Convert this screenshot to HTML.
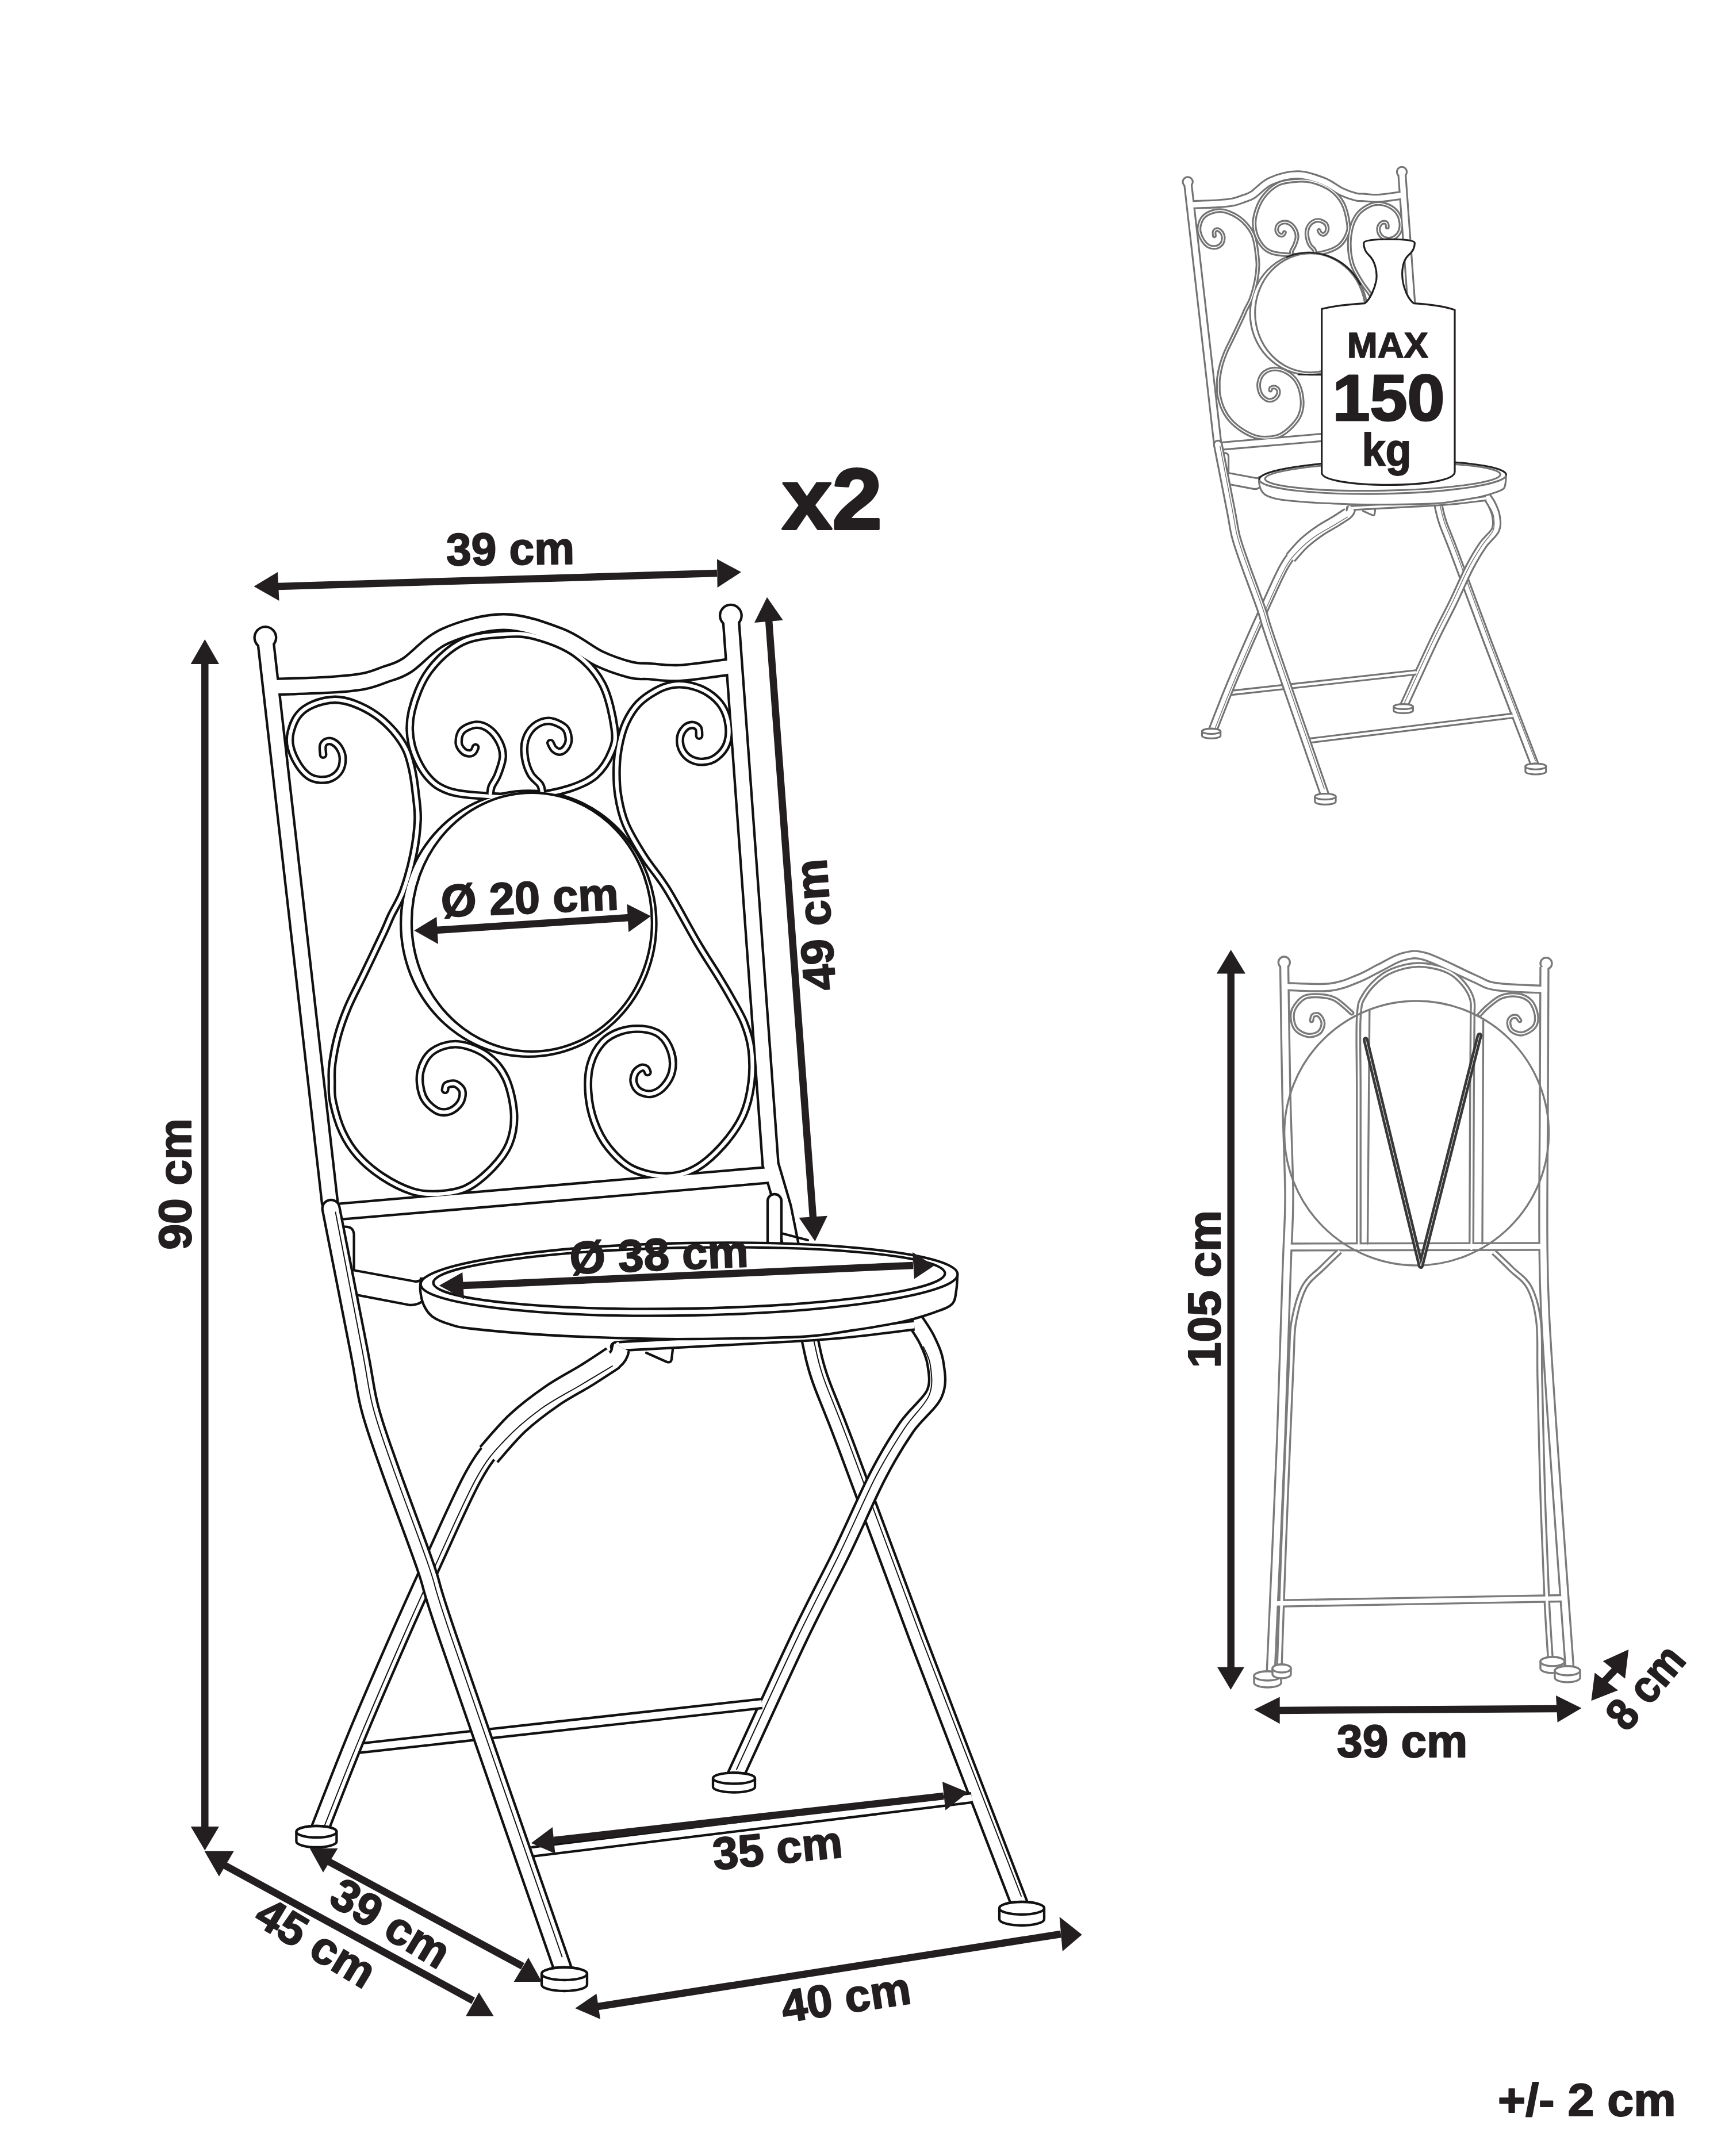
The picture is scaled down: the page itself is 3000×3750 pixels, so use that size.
<!DOCTYPE html>
<html><head><meta charset="utf-8"><style>
html,body{margin:0;padding:0;background:#fff;}
svg{display:block;font-family:"Liberation Sans",sans-serif;}
</style></head><body>
<svg xmlns="http://www.w3.org/2000/svg" width="3000" height="3750" viewBox="0 0 3000 3750">
<rect width="3000" height="3750" fill="#fff"/>

<path d="M1380,2190 C1380.8,2195 1380.3,2197 1385,2220 C1389.7,2243 1401.3,2298.8 1408,2328 C1414.7,2357.2 1414.7,2364.5 1425,2395 C1435.3,2425.5 1441.5,2435.2 1470,2511 C1498.5,2586.8 1544.8,2714.8 1596,2850 C1647.2,2985.2 1746.8,3243.3 1777,3322" fill="none" stroke="#111111" stroke-width="32.3" stroke-linecap="butt" stroke-linejoin="round"/>

<path d="M1380,2190 C1380.8,2195 1380.3,2197 1385,2220 C1389.7,2243 1401.3,2298.8 1408,2328 C1414.7,2357.2 1414.7,2364.5 1425,2395 C1435.3,2425.5 1441.5,2435.2 1470,2511 C1498.5,2586.8 1544.8,2714.8 1596,2850 C1647.2,2985.2 1746.8,3243.3 1777,3322" fill="none" stroke="#fff" stroke-width="23.7" stroke-linecap="butt" stroke-linejoin="round"/><g transform="translate(6,-2)"><path d="M1400,2300 C1401.3,2304.7 1403.8,2312.2 1408,2328 C1412.2,2343.8 1414.7,2364.5 1425,2395 C1435.3,2425.5 1441.5,2435.2 1470,2511 C1498.5,2586.8 1546,2718.5 1596,2850 C1646,2981.5 1741,3225 1770,3300" fill="none" stroke="#111111" stroke-width="1.9" stroke-linecap="round" stroke-linejoin="round"/></g>
<path d="M1590,2295 C1593.7,2300.8 1605.8,2317.2 1612,2330 C1618.2,2342.8 1624.8,2356.3 1627,2372 C1629.2,2387.7 1633.3,2405.7 1625,2424 C1616.7,2442.3 1593.3,2458.3 1577,2482 C1560.7,2505.7 1545.8,2529.7 1527,2566 C1508.2,2602.3 1487,2652.7 1464,2700 C1441,2747.3 1420.3,2784.2 1389,2850 C1357.7,2915.8 1294.8,3054.2 1276,3095" fill="none" stroke="#111111" stroke-width="32.3" stroke-linecap="butt" stroke-linejoin="round"/>

<path d="M1590,2295 C1593.7,2300.8 1605.8,2317.2 1612,2330 C1618.2,2342.8 1624.8,2356.3 1627,2372 C1629.2,2387.7 1633.3,2405.7 1625,2424 C1616.7,2442.3 1593.3,2458.3 1577,2482 C1560.7,2505.7 1545.8,2529.7 1527,2566 C1508.2,2602.3 1487,2652.7 1464,2700 C1441,2747.3 1420.3,2784.2 1389,2850 C1357.7,2915.8 1294.8,3054.2 1276,3095" fill="none" stroke="#fff" stroke-width="23.7" stroke-linecap="butt" stroke-linejoin="round"/><g transform="translate(6,2.5)"><path d="M1600,2340 C1602,2345.3 1610.3,2358 1612,2372 C1613.7,2386 1617.5,2405.7 1610,2424 C1602.5,2442.3 1582.5,2458.3 1567,2482 C1551.5,2505.7 1535.8,2529.7 1517,2566 C1498.2,2602.3 1477,2652.7 1454,2700 C1431,2747.3 1408.8,2787.5 1379,2850 C1349.2,2912.5 1292.3,3037.5 1275,3075" fill="none" stroke="#111111" stroke-width="1.9" stroke-linecap="round" stroke-linejoin="round"/></g>
<path d="M1078,2343 C1080,2342.7 1053,2343.2 1090,2341 C1127,2338.8 1240,2333.3 1300,2330 C1360,2326.7 1401.7,2325.2 1450,2321 C1498.3,2316.8 1566.7,2307.7 1590,2305" fill="none" stroke="#111111" stroke-width="19.3" stroke-linecap="butt" stroke-linejoin="round"/>

<path d="M1078,2343 C1080,2342.7 1053,2343.2 1090,2341 C1127,2338.8 1240,2333.3 1300,2330 C1360,2326.7 1401.7,2325.2 1450,2321 C1498.3,2316.8 1566.7,2307.7 1590,2305" fill="none" stroke="#fff" stroke-width="10.7" stroke-linecap="butt" stroke-linejoin="round"/>
<ellipse cx="919.3" cy="1606.6" rx="224.35" ry="233.35" fill="#111111"/><circle cx="461.4" cy="1109" r="20.95" fill="#111111"/><circle cx="1270.9" cy="1070.7" r="20.95" fill="#111111"/>
<path d="M461.5,1112 L574,2095" fill="none" stroke="#111111" stroke-width="31.8" stroke-linecap="butt" stroke-linejoin="round"/>
<path d="M1271,1075 L1340,2025 L1362,2100 L1388,2230" fill="none" stroke="#111111" stroke-width="31.8" stroke-linecap="butt" stroke-linejoin="round"/>
<path d="M470,1195 C487.3,1194.3 547,1192.7 574,1191 C601,1189.3 616,1188 632,1185 C648,1182 657.3,1177.7 670,1173 C682.7,1168.3 690.7,1168.1 708,1157 C725.3,1145.9 746,1119 774,1106.5 C802,1094 842.7,1082 876,1082 C909.3,1082 946.3,1096.1 974,1106.7 C1001.7,1117.3 1021.6,1135.8 1042,1145.5 C1062.4,1155.2 1082.3,1161.3 1096.6,1165 C1110.9,1168.7 1113.6,1166.6 1128,1167.5 C1142.4,1168.4 1158.5,1171.9 1183,1170.5 C1207.5,1169.1 1259.7,1160.9 1275,1159" fill="none" stroke="#111111" stroke-width="31.8" stroke-linecap="butt" stroke-linejoin="round"/>
<path d="M565,2109.5 L1338,2043.5" fill="none" stroke="#111111" stroke-width="31.8" stroke-linecap="butt" stroke-linejoin="round"/>
<path d="M876,1103 C897.3,1101.4 911.1,1101.3 932,1107 C952.9,1112.7 982.2,1123.5 1001.5,1137.4 C1020.8,1151.4 1036.8,1169.1 1048,1190.7 C1059.2,1212.3 1066,1247.7 1068.7,1267 C1071.4,1286.3 1069.5,1293.1 1064,1306.7 C1058.5,1320.3 1048.3,1337.6 1036,1348.4 C1023.7,1359.2 1009.3,1365.5 990,1371.6 C970.7,1377.7 943.3,1382.8 920,1385 C896.7,1387.2 873.2,1386.5 850,1385 C826.8,1383.5 799,1382.1 781,1376 C763,1369.9 752.5,1361.9 741.7,1348.4 C730.9,1334.9 720.3,1313.6 716,1295 C711.7,1276.4 711,1258.2 716,1237 C721,1215.8 731.3,1187.6 746,1167.5 C760.7,1147.4 782.3,1127.2 804,1116.5 C825.7,1105.8 854.7,1104.6 876,1103 Z" fill="none" stroke="#111111" stroke-width="14.8" stroke-linecap="round" stroke-linejoin="round"/>
<path d="M827,1299.9 C826.4,1301.2 825.2,1305.7 823.3,1307.4 C821.4,1309.2 818.8,1310.7 815.8,1310.4 C812.8,1310.2 808.2,1308.9 805.2,1305.9 C802.2,1302.9 798,1298.1 797.7,1292.3 C797.5,1286.5 798.7,1276.5 803.7,1271.2 C808.7,1265.9 820,1261.2 827.8,1260.7 C835.6,1260.2 843.6,1263.2 850.4,1268.2 C857.2,1273.2 864.5,1282.8 868.5,1290.8 C872.5,1298.8 875,1307 874.5,1316.5 C874,1326 868.8,1339.6 865.5,1348.1 C862.2,1356.6 857.1,1362.4 855,1367.7 C852.9,1373 853.1,1378 852.7,1380" fill="none" stroke="#111111" stroke-width="14.8" stroke-linecap="round" stroke-linejoin="round"/>
<path d="M957.4,1292.3 C958.4,1294.1 960.7,1300.4 963.5,1302.9 C966.3,1305.4 970.5,1307.9 974,1307.4 C977.5,1306.9 982,1303.7 984.5,1299.9 C987,1296.1 989.5,1290.6 989,1284.8 C988.5,1279 987.4,1270.3 981.6,1265.2 C975.8,1260.1 963.2,1254.2 954.4,1253.9 C945.6,1253.7 935.6,1258.1 928.8,1263.7 C922,1269.3 916.3,1278.8 913.7,1287.8 C911.1,1296.8 911.5,1308.2 913,1318 C914.5,1327.8 918.4,1338.8 922.8,1346.6 C927.2,1354.4 935.9,1359.5 939.3,1364.7 C942.7,1369.9 942.4,1375.8 943,1378" fill="none" stroke="#111111" stroke-width="14.8" stroke-linecap="round" stroke-linejoin="round"/>
<path d="M562,1312.6 C561.9,1310.1 560.5,1301.3 561.4,1297.5 C562.3,1293.7 564.6,1291.2 567.4,1290 C570.2,1288.8 574.2,1288.2 578,1290 C581.8,1291.8 587,1295.8 590,1300.6 C593,1305.4 595.8,1312.1 596,1318.6 C596.2,1325.1 594.8,1333.9 591.5,1339.7 C588.2,1345.5 582.2,1350.5 576.4,1353.3 C570.6,1356.1 563.4,1356.8 556.9,1356.3 C550.4,1355.8 543.6,1354.6 537.3,1350.3 C531,1346 524.5,1339 519.2,1330.7 C513.9,1322.4 507.9,1310.1 505.6,1300.6 C503.3,1291 503.3,1283 505.6,1273.4 C507.9,1263.9 512.7,1251.3 519.2,1243.3 C525.7,1235.3 534.2,1229.6 544.8,1225.2 C555.3,1220.8 570.7,1217.2 582.5,1217 C594.3,1216.8 603.8,1219.3 615.6,1223.7 C627.4,1228.1 642,1235.5 653.3,1243.3 C664.6,1251.1 674.6,1260.4 683.4,1270.4 C692.2,1280.5 700.5,1292.3 706,1303.6 C711.5,1314.9 713.8,1325.5 716.6,1338.2 C719.4,1350.9 721.4,1365.3 723,1380 C724.6,1394.7 727.2,1408.8 726.5,1426.5 C725.8,1444.2 723.2,1465.4 719,1486 C714.8,1506.6 707.7,1532.2 701.2,1550 C694.7,1567.8 685.6,1581 680,1593 C674.4,1605 675.3,1604.7 667.4,1621.7 C659.5,1638.7 643,1673.1 632.6,1694.8 C622.2,1716.5 612.4,1734.5 605,1752 C597.6,1769.5 592.5,1783.7 588,1800 C583.5,1816.3 579.8,1836.7 578,1850 C576.2,1863.3 576.8,1869 577,1880 C577.2,1891 575.9,1901.2 579,1916 C582.1,1930.8 588.2,1953 595.5,1968.7 C602.8,1984.4 611.1,1997.5 622.6,2010.4 C634.1,2023.3 648.8,2035.7 664.4,2046 C680,2056.3 700.5,2066.8 716.5,2072 C732.5,2077.2 744.8,2077.8 760.4,2077 C776,2076.2 794.4,2074.6 810.4,2067 C826.4,2059.4 843.8,2044.2 856.3,2031.3 C868.8,2018.4 879.3,2005.2 885.6,1989.6 C891.9,1973.9 895,1956.5 894,1937.4 C893,1918.3 887.3,1891.8 879.3,1874.8 C871.3,1857.8 859.8,1844.8 845.9,1835.1 C832,1825.3 811.4,1817.3 795.8,1816.3 C780.1,1815.3 762.8,1820.9 752,1828.9 C741.2,1836.9 733.9,1851.5 731.1,1864.4 C728.3,1877.3 730.8,1895 735.3,1906.1 C739.8,1917.2 750.6,1926.6 758.3,1931.1 C765.9,1935.6 774.2,1935.3 781.2,1933.2 C788.2,1931.1 796.2,1924.5 800,1918.6 C803.8,1912.7 805.6,1903.3 804.2,1897.7 C802.8,1892.1 796.2,1886.9 791.7,1885.2 C787.2,1883.5 780,1885.5 777,1887.3 C774,1889 774.5,1894.3 774,1895.7" fill="none" stroke="#111111" stroke-width="14.8" stroke-linecap="round" stroke-linejoin="round"/>
<path d="M1216,1279.6 C1215.8,1277.4 1216.5,1269.7 1214.5,1266.6 C1212.5,1263.5 1207.9,1261 1204,1261 C1200.1,1261 1194.5,1263 1191,1266.6 C1187.5,1270.2 1183.6,1276.6 1182.8,1282.8 C1182,1289 1183,1297.8 1186,1304 C1189,1310.2 1194.5,1316.5 1200.7,1320 C1206.9,1323.5 1215.9,1325.5 1223.4,1325 C1231,1324.5 1239.2,1322.2 1246,1317 C1252.8,1311.8 1260.5,1303.2 1264,1294 C1267.5,1284.8 1268.3,1272.5 1267,1261.7 C1265.7,1250.9 1261.9,1238.5 1256,1229 C1250.1,1219.5 1241,1211.2 1231.5,1205 C1222,1198.8 1209.2,1194.3 1199,1192 C1188.8,1189.7 1179.7,1189.4 1170,1191 C1160.3,1192.6 1150.6,1196.1 1140.6,1201.7 C1130.6,1207.3 1118.4,1215.2 1109.8,1224.4 C1101.2,1233.6 1094.1,1245.3 1088.7,1256.9 C1083.3,1268.5 1080,1281.2 1077.3,1294.2 C1074.6,1307.2 1072.9,1319.9 1072.5,1334.8 C1072.1,1349.7 1072.4,1367.1 1075,1383.5 C1077.6,1399.9 1080.5,1415.2 1088,1433 C1095.5,1450.8 1108.1,1471.2 1120,1490 C1131.9,1508.8 1144.3,1521.4 1159.6,1546 C1174.9,1570.6 1196.5,1612 1211.6,1637.7 C1226.7,1663.4 1240.5,1683.7 1250.4,1700 C1260.4,1716.3 1264,1722.3 1271.3,1735.5 C1278.6,1748.7 1288.4,1764.3 1294.3,1779.3 C1300.2,1794.2 1304.7,1807.8 1306.8,1825.2 C1308.9,1842.6 1309.2,1864.6 1306.8,1883.7 C1304.4,1902.8 1300.5,1921.9 1292.2,1940 C1283.9,1958.1 1270.6,1976.7 1256.7,1992.2 C1242.8,2007.7 1225.1,2024 1208.7,2033 C1192.3,2042 1176.7,2046 1158.6,2046 C1140.5,2046 1116.9,2041.3 1100.2,2033 C1083.5,2024.7 1069.5,2010.2 1058.4,1996.4 C1047.3,1982.6 1039.3,1966.8 1033.4,1950.4 C1027.5,1934.1 1024,1915 1023,1898.3 C1021.9,1881.6 1022.9,1864.6 1027.1,1850.3 C1031.3,1836 1039.3,1822.1 1048,1812.7 C1056.7,1803.3 1067.8,1797.7 1079.3,1793.9 C1090.8,1790.1 1105.4,1788.7 1116.9,1789.7 C1128.4,1790.8 1139.9,1793.6 1148.2,1800.2 C1156.5,1806.8 1163.5,1819 1167,1829.4 C1170.5,1839.8 1171.1,1852.7 1169,1862.8 C1166.9,1872.9 1160.3,1883.3 1154.4,1889.9 C1148.5,1896.5 1140.5,1901 1133.6,1902.4 C1126.6,1903.8 1117.9,1901.4 1112.7,1898.3 C1107.5,1895.2 1103.7,1888.9 1102.3,1883.7 C1100.9,1878.5 1102.3,1871.3 1104.4,1867 C1106.5,1862.7 1111.7,1859 1114.8,1857.6 C1117.9,1856.2 1121.1,1857.4 1123,1858.6 C1124.9,1859.8 1125.8,1863.9 1126.3,1864.9" fill="none" stroke="#111111" stroke-width="14.8" stroke-linecap="round" stroke-linejoin="round"/>
<ellipse cx="919.3" cy="1606.6" rx="220.04999999999998" ry="229.04999999999998" fill="#fff"/><circle cx="461.4" cy="1109" r="16.650000000000002" fill="#fff"/><circle cx="1270.9" cy="1070.7" r="16.650000000000002" fill="#fff"/>
<path d="M461.5,1112 L574,2095" fill="none" stroke="#fff" stroke-width="23.2" stroke-linecap="butt" stroke-linejoin="round"/>
<path d="M1271,1075 L1340,2025 L1362,2100 L1388,2230" fill="none" stroke="#fff" stroke-width="23.2" stroke-linecap="butt" stroke-linejoin="round"/>
<path d="M470,1195 C487.3,1194.3 547,1192.7 574,1191 C601,1189.3 616,1188 632,1185 C648,1182 657.3,1177.7 670,1173 C682.7,1168.3 690.7,1168.1 708,1157 C725.3,1145.9 746,1119 774,1106.5 C802,1094 842.7,1082 876,1082 C909.3,1082 946.3,1096.1 974,1106.7 C1001.7,1117.3 1021.6,1135.8 1042,1145.5 C1062.4,1155.2 1082.3,1161.3 1096.6,1165 C1110.9,1168.7 1113.6,1166.6 1128,1167.5 C1142.4,1168.4 1158.5,1171.9 1183,1170.5 C1207.5,1169.1 1259.7,1160.9 1275,1159" fill="none" stroke="#fff" stroke-width="23.2" stroke-linecap="butt" stroke-linejoin="round"/>
<path d="M565,2109.5 L1338,2043.5" fill="none" stroke="#fff" stroke-width="23.2" stroke-linecap="butt" stroke-linejoin="round"/>
<path d="M876,1103 C897.3,1101.4 911.1,1101.3 932,1107 C952.9,1112.7 982.2,1123.5 1001.5,1137.4 C1020.8,1151.4 1036.8,1169.1 1048,1190.7 C1059.2,1212.3 1066,1247.7 1068.7,1267 C1071.4,1286.3 1069.5,1293.1 1064,1306.7 C1058.5,1320.3 1048.3,1337.6 1036,1348.4 C1023.7,1359.2 1009.3,1365.5 990,1371.6 C970.7,1377.7 943.3,1382.8 920,1385 C896.7,1387.2 873.2,1386.5 850,1385 C826.8,1383.5 799,1382.1 781,1376 C763,1369.9 752.5,1361.9 741.7,1348.4 C730.9,1334.9 720.3,1313.6 716,1295 C711.7,1276.4 711,1258.2 716,1237 C721,1215.8 731.3,1187.6 746,1167.5 C760.7,1147.4 782.3,1127.2 804,1116.5 C825.7,1105.8 854.7,1104.6 876,1103 Z" fill="none" stroke="#fff" stroke-width="6.2" stroke-linecap="round" stroke-linejoin="round"/>
<path d="M827,1299.9 C826.4,1301.2 825.2,1305.7 823.3,1307.4 C821.4,1309.2 818.8,1310.7 815.8,1310.4 C812.8,1310.2 808.2,1308.9 805.2,1305.9 C802.2,1302.9 798,1298.1 797.7,1292.3 C797.5,1286.5 798.7,1276.5 803.7,1271.2 C808.7,1265.9 820,1261.2 827.8,1260.7 C835.6,1260.2 843.6,1263.2 850.4,1268.2 C857.2,1273.2 864.5,1282.8 868.5,1290.8 C872.5,1298.8 875,1307 874.5,1316.5 C874,1326 868.8,1339.6 865.5,1348.1 C862.2,1356.6 857.1,1362.4 855,1367.7 C852.9,1373 853.1,1378 852.7,1380" fill="none" stroke="#fff" stroke-width="6.2" stroke-linecap="round" stroke-linejoin="round"/>
<path d="M957.4,1292.3 C958.4,1294.1 960.7,1300.4 963.5,1302.9 C966.3,1305.4 970.5,1307.9 974,1307.4 C977.5,1306.9 982,1303.7 984.5,1299.9 C987,1296.1 989.5,1290.6 989,1284.8 C988.5,1279 987.4,1270.3 981.6,1265.2 C975.8,1260.1 963.2,1254.2 954.4,1253.9 C945.6,1253.7 935.6,1258.1 928.8,1263.7 C922,1269.3 916.3,1278.8 913.7,1287.8 C911.1,1296.8 911.5,1308.2 913,1318 C914.5,1327.8 918.4,1338.8 922.8,1346.6 C927.2,1354.4 935.9,1359.5 939.3,1364.7 C942.7,1369.9 942.4,1375.8 943,1378" fill="none" stroke="#fff" stroke-width="6.2" stroke-linecap="round" stroke-linejoin="round"/>
<path d="M562,1312.6 C561.9,1310.1 560.5,1301.3 561.4,1297.5 C562.3,1293.7 564.6,1291.2 567.4,1290 C570.2,1288.8 574.2,1288.2 578,1290 C581.8,1291.8 587,1295.8 590,1300.6 C593,1305.4 595.8,1312.1 596,1318.6 C596.2,1325.1 594.8,1333.9 591.5,1339.7 C588.2,1345.5 582.2,1350.5 576.4,1353.3 C570.6,1356.1 563.4,1356.8 556.9,1356.3 C550.4,1355.8 543.6,1354.6 537.3,1350.3 C531,1346 524.5,1339 519.2,1330.7 C513.9,1322.4 507.9,1310.1 505.6,1300.6 C503.3,1291 503.3,1283 505.6,1273.4 C507.9,1263.9 512.7,1251.3 519.2,1243.3 C525.7,1235.3 534.2,1229.6 544.8,1225.2 C555.3,1220.8 570.7,1217.2 582.5,1217 C594.3,1216.8 603.8,1219.3 615.6,1223.7 C627.4,1228.1 642,1235.5 653.3,1243.3 C664.6,1251.1 674.6,1260.4 683.4,1270.4 C692.2,1280.5 700.5,1292.3 706,1303.6 C711.5,1314.9 713.8,1325.5 716.6,1338.2 C719.4,1350.9 721.4,1365.3 723,1380 C724.6,1394.7 727.2,1408.8 726.5,1426.5 C725.8,1444.2 723.2,1465.4 719,1486 C714.8,1506.6 707.7,1532.2 701.2,1550 C694.7,1567.8 685.6,1581 680,1593 C674.4,1605 675.3,1604.7 667.4,1621.7 C659.5,1638.7 643,1673.1 632.6,1694.8 C622.2,1716.5 612.4,1734.5 605,1752 C597.6,1769.5 592.5,1783.7 588,1800 C583.5,1816.3 579.8,1836.7 578,1850 C576.2,1863.3 576.8,1869 577,1880 C577.2,1891 575.9,1901.2 579,1916 C582.1,1930.8 588.2,1953 595.5,1968.7 C602.8,1984.4 611.1,1997.5 622.6,2010.4 C634.1,2023.3 648.8,2035.7 664.4,2046 C680,2056.3 700.5,2066.8 716.5,2072 C732.5,2077.2 744.8,2077.8 760.4,2077 C776,2076.2 794.4,2074.6 810.4,2067 C826.4,2059.4 843.8,2044.2 856.3,2031.3 C868.8,2018.4 879.3,2005.2 885.6,1989.6 C891.9,1973.9 895,1956.5 894,1937.4 C893,1918.3 887.3,1891.8 879.3,1874.8 C871.3,1857.8 859.8,1844.8 845.9,1835.1 C832,1825.3 811.4,1817.3 795.8,1816.3 C780.1,1815.3 762.8,1820.9 752,1828.9 C741.2,1836.9 733.9,1851.5 731.1,1864.4 C728.3,1877.3 730.8,1895 735.3,1906.1 C739.8,1917.2 750.6,1926.6 758.3,1931.1 C765.9,1935.6 774.2,1935.3 781.2,1933.2 C788.2,1931.1 796.2,1924.5 800,1918.6 C803.8,1912.7 805.6,1903.3 804.2,1897.7 C802.8,1892.1 796.2,1886.9 791.7,1885.2 C787.2,1883.5 780,1885.5 777,1887.3 C774,1889 774.5,1894.3 774,1895.7" fill="none" stroke="#fff" stroke-width="6.2" stroke-linecap="round" stroke-linejoin="round"/>
<path d="M1216,1279.6 C1215.8,1277.4 1216.5,1269.7 1214.5,1266.6 C1212.5,1263.5 1207.9,1261 1204,1261 C1200.1,1261 1194.5,1263 1191,1266.6 C1187.5,1270.2 1183.6,1276.6 1182.8,1282.8 C1182,1289 1183,1297.8 1186,1304 C1189,1310.2 1194.5,1316.5 1200.7,1320 C1206.9,1323.5 1215.9,1325.5 1223.4,1325 C1231,1324.5 1239.2,1322.2 1246,1317 C1252.8,1311.8 1260.5,1303.2 1264,1294 C1267.5,1284.8 1268.3,1272.5 1267,1261.7 C1265.7,1250.9 1261.9,1238.5 1256,1229 C1250.1,1219.5 1241,1211.2 1231.5,1205 C1222,1198.8 1209.2,1194.3 1199,1192 C1188.8,1189.7 1179.7,1189.4 1170,1191 C1160.3,1192.6 1150.6,1196.1 1140.6,1201.7 C1130.6,1207.3 1118.4,1215.2 1109.8,1224.4 C1101.2,1233.6 1094.1,1245.3 1088.7,1256.9 C1083.3,1268.5 1080,1281.2 1077.3,1294.2 C1074.6,1307.2 1072.9,1319.9 1072.5,1334.8 C1072.1,1349.7 1072.4,1367.1 1075,1383.5 C1077.6,1399.9 1080.5,1415.2 1088,1433 C1095.5,1450.8 1108.1,1471.2 1120,1490 C1131.9,1508.8 1144.3,1521.4 1159.6,1546 C1174.9,1570.6 1196.5,1612 1211.6,1637.7 C1226.7,1663.4 1240.5,1683.7 1250.4,1700 C1260.4,1716.3 1264,1722.3 1271.3,1735.5 C1278.6,1748.7 1288.4,1764.3 1294.3,1779.3 C1300.2,1794.2 1304.7,1807.8 1306.8,1825.2 C1308.9,1842.6 1309.2,1864.6 1306.8,1883.7 C1304.4,1902.8 1300.5,1921.9 1292.2,1940 C1283.9,1958.1 1270.6,1976.7 1256.7,1992.2 C1242.8,2007.7 1225.1,2024 1208.7,2033 C1192.3,2042 1176.7,2046 1158.6,2046 C1140.5,2046 1116.9,2041.3 1100.2,2033 C1083.5,2024.7 1069.5,2010.2 1058.4,1996.4 C1047.3,1982.6 1039.3,1966.8 1033.4,1950.4 C1027.5,1934.1 1024,1915 1023,1898.3 C1021.9,1881.6 1022.9,1864.6 1027.1,1850.3 C1031.3,1836 1039.3,1822.1 1048,1812.7 C1056.7,1803.3 1067.8,1797.7 1079.3,1793.9 C1090.8,1790.1 1105.4,1788.7 1116.9,1789.7 C1128.4,1790.8 1139.9,1793.6 1148.2,1800.2 C1156.5,1806.8 1163.5,1819 1167,1829.4 C1170.5,1839.8 1171.1,1852.7 1169,1862.8 C1166.9,1872.9 1160.3,1883.3 1154.4,1889.9 C1148.5,1896.5 1140.5,1901 1133.6,1902.4 C1126.6,1903.8 1117.9,1901.4 1112.7,1898.3 C1107.5,1895.2 1103.7,1888.9 1102.3,1883.7 C1100.9,1878.5 1102.3,1871.3 1104.4,1867 C1106.5,1862.7 1111.7,1859 1114.8,1857.6 C1117.9,1856.2 1121.1,1857.4 1123,1858.6 C1124.9,1859.8 1125.8,1863.9 1126.3,1864.9" fill="none" stroke="#fff" stroke-width="6.2" stroke-linecap="round" stroke-linejoin="round"/><ellipse cx="924.9" cy="1603.9" rx="209" ry="225" fill="none" stroke="#111111" stroke-width="4.3"/>
<path d="M600,2206 L722.6,2229 Q733,2228 740,2222 L740,2262 Q728,2270 713,2270 L600,2250 Z" fill="#fff"/><path d="M608,2208 L722.6,2229 Q733,2228 740,2222" fill="none" stroke="#111111" stroke-width="4.3" stroke-linecap="round" stroke-linejoin="round"/><path d="M617,2251.7 L713,2270 Q725,2270 734,2264" fill="none" stroke="#111111" stroke-width="4.3" stroke-linecap="round" stroke-linejoin="round"/><path d="M595,2134 Q615,2131 615.6,2148 L615.6,2206.5" fill="none" stroke="#111111" stroke-width="4.3" stroke-linecap="round" stroke-linejoin="round"/>
<path d="M1347,2089 L1347,2175" fill="none" stroke="#111111" stroke-width="28.3" stroke-linecap="round" stroke-linejoin="round"/>

<path d="M1347,2089 L1347,2175" fill="none" stroke="#fff" stroke-width="19.7" stroke-linecap="round" stroke-linejoin="round"/><path d="M1359,2145 L1405,2157" fill="none" stroke="#111111" stroke-width="4.3" stroke-linecap="round" stroke-linejoin="round"/><path d="M1124,2353 L1160,2369 Q1167,2371 1168,2364 L1170,2347" fill="none" stroke="#111111" stroke-width="4.3" stroke-linecap="round" stroke-linejoin="round"/>
<path d="M732,2224 C731.8,2227.5 730.2,2237.3 731,2245 C731.8,2252.7 733.5,2262.5 737,2270 C740.5,2277.5 744.7,2284.5 752,2290 C759.3,2295.5 769.7,2299.5 781,2303 C792.3,2306.5 791.8,2307.8 820,2311 C848.2,2314.2 903.3,2319.2 950,2322 C996.7,2324.8 1057.7,2326.8 1100,2328 C1142.3,2329.2 1154.8,2329.5 1204,2329 C1253.2,2328.5 1348.7,2327.5 1395,2325 C1441.3,2322.5 1453,2318.3 1482,2314 C1511,2309.7 1544.8,2304.3 1569,2299 C1593.2,2293.7 1612.5,2287.2 1627,2282 C1641.5,2276.8 1650,2274.2 1656,2268 C1662,2261.8 1661.5,2253.2 1663,2245 C1664.5,2236.8 1664.7,2223.3 1665,2219 Z" fill="#fff" stroke="#111111" stroke-width="4.3"/><g transform="rotate(-1.07 1198.5 2225)"><ellipse cx="1198.5" cy="2225" rx="467" ry="63" fill="#fff" stroke="#111111" stroke-width="4.3"/><ellipse cx="1198.5" cy="2223" rx="445" ry="53" fill="none" stroke="#111111" stroke-width="4.3"/></g>

<path d="M622,3041 L1325,2963" fill="none" stroke="#111111" stroke-width="20.3" stroke-linecap="butt" stroke-linejoin="round"/>
<path d="M925,3221 L1690,3127" fill="none" stroke="#111111" stroke-width="20.3" stroke-linecap="butt" stroke-linejoin="round"/>

<path d="M622,3041 L1325,2963" fill="none" stroke="#fff" stroke-width="11.7" stroke-linecap="butt" stroke-linejoin="round"/>
<path d="M925,3221 L1690,3127" fill="none" stroke="#fff" stroke-width="11.7" stroke-linecap="butt" stroke-linejoin="round"/>

<path d="M552,3192 C563.3,3163.3 596.5,3077 620,3020 C643.5,2963 671,2900.2 693,2850 C715,2799.8 730.3,2766 752,2719 C773.7,2672 803,2604.2 823,2568 C843,2531.8 853.3,2522.2 872,2502 C890.7,2481.8 912.8,2463.2 935,2447 C957.2,2430.8 982.8,2418.5 1005,2405 C1027.2,2391.5 1055.5,2376.3 1068,2366 C1080.5,2355.7 1078,2346.8 1080,2343" fill="none" stroke="#111111" stroke-width="34.3" stroke-linecap="butt" stroke-linejoin="round"/>
<path d="M850,2530 C858.3,2520.8 881.7,2492 900,2475 C918.3,2458 940,2441.8 960,2428 C980,2414.2 1002.3,2403 1020,2392 C1037.7,2381 1058.3,2367 1066,2362" fill="none" stroke="#111111" stroke-width="44.3" stroke-linecap="butt" stroke-linejoin="round"/>

<path d="M552,3192 C563.3,3163.3 596.5,3077 620,3020 C643.5,2963 671,2900.2 693,2850 C715,2799.8 730.3,2766 752,2719 C773.7,2672 803,2604.2 823,2568 C843,2531.8 853.3,2522.2 872,2502 C890.7,2481.8 912.8,2463.2 935,2447 C957.2,2430.8 982.8,2418.5 1005,2405 C1027.2,2391.5 1055.5,2376.3 1068,2366 C1080.5,2355.7 1078,2346.8 1080,2343" fill="none" stroke="#fff" stroke-width="25.7" stroke-linecap="butt" stroke-linejoin="round"/>
<path d="M850,2530 C858.3,2520.8 881.7,2492 900,2475 C918.3,2458 940,2441.8 960,2428 C980,2414.2 1002.3,2403 1020,2392 C1037.7,2381 1058.3,2367 1066,2362" fill="none" stroke="#fff" stroke-width="35.7" stroke-linecap="butt" stroke-linejoin="round"/><g transform="translate(5,4)"><path d="M560,3170 C570,3145 597.8,3073.3 620,3020 C642.2,2966.7 671,2900.2 693,2850 C715,2799.8 730.3,2766 752,2719 C773.7,2672 803,2604.2 823,2568 C843,2531.8 853.3,2522.2 872,2502 C890.7,2481.8 912.8,2463.2 935,2447 C957.2,2430.8 984.2,2417.5 1005,2405 C1025.8,2392.5 1050.8,2377.5 1060,2372" fill="none" stroke="#111111" stroke-width="1.9" stroke-linecap="round" stroke-linejoin="round"/></g>
<path d="M575.6,2102 C583.7,2143.3 613.1,2292 624.4,2350 C635.7,2408 634.5,2416 643.4,2450 C652.3,2484 661.6,2508.2 677.7,2554 C693.8,2599.8 723,2675.7 740,2725 C757,2774.3 739.7,2732.8 779.7,2850 C819.7,2967.2 946.6,3331.7 980,3428" fill="none" stroke="#111111" stroke-width="34.3" stroke-linecap="round" stroke-linejoin="round"/>

<path d="M575.6,2102 C583.7,2143.3 613.1,2292 624.4,2350 C635.7,2408 634.5,2416 643.4,2450 C652.3,2484 661.6,2508.2 677.7,2554 C693.8,2599.8 723,2675.7 740,2725 C757,2774.3 739.7,2732.8 779.7,2850 C819.7,2967.2 946.6,3331.7 980,3428" fill="none" stroke="#fff" stroke-width="25.7" stroke-linecap="round" stroke-linejoin="round"/><g transform="translate(5.5,-1.5)"><path d="M578,2110 C585.7,2150 613.5,2293.3 624.4,2350 C635.3,2406.7 634.5,2416 643.4,2450 C652.3,2484 661.6,2508.2 677.7,2554 C693.8,2599.8 723,2675.7 740,2725 C757,2774.3 741,2736.7 779.7,2850 C818.4,2963.3 940,3312.5 972,3405" fill="none" stroke="#111111" stroke-width="1.9" stroke-linecap="round" stroke-linejoin="round"/></g>
<path d="M515.4,3186 A35,10 0 0,1 585.4,3186 L585.4,3203 A35,10 0 0,1 515.4,3203 Z" fill="#fff" stroke="#111111" stroke-width="4.3"/><ellipse cx="550.4" cy="3186" rx="35" ry="10" fill="#fff" stroke="#111111" stroke-width="4.3"/><path d="M942.0,3433 A39.5,11 0 0,1 1021.0,3433 L1021.0,3452 A39.5,11 0 0,1 942.0,3452 Z" fill="#fff" stroke="#111111" stroke-width="4.3"/><ellipse cx="981.5" cy="3433" rx="39.5" ry="11" fill="#fff" stroke="#111111" stroke-width="4.3"/><path d="M1240.0,3093 A36.5,9.5 0 0,1 1313.0,3093 L1313.0,3108 A36.5,9.5 0 0,1 1240.0,3108 Z" fill="#fff" stroke="#111111" stroke-width="4.3"/><ellipse cx="1276.5" cy="3093" rx="36.5" ry="9.5" fill="#fff" stroke="#111111" stroke-width="4.3"/><path d="M1738,3319 A39,11 0 0,1 1816,3319 L1816,3338 A39,11 0 0,1 1738,3338 Z" fill="#fff" stroke="#111111" stroke-width="4.3"/><ellipse cx="1777" cy="3319" rx="39" ry="11" fill="#fff" stroke="#111111" stroke-width="4.3"/><line x1="483" y1="1020" x2="1247" y2="997" stroke="#231f20" stroke-width="12.5"/><polygon points="441.5,1020 483,995 485.5,1045" fill="#231f20"/><polygon points="1289,995 1247,972.6 1247.6,1022" fill="#231f20"/><line x1="356.3" y1="1150" x2="356.3" y2="3180" stroke="#231f20" stroke-width="12.5"/><polygon points="356.3,1112 331.7,1155 381,1155" fill="#231f20"/><polygon points="356.3,3218.4 331.7,3177 381,3177" fill="#231f20"/><line x1="1337" y1="1078" x2="1414" y2="2118" stroke="#231f20" stroke-width="12.5"/><polygon points="1334,1038.7 1312,1083 1361.7,1078.7" fill="#231f20"/><polygon points="1417.4,2159 1389.6,2118 1439,2114.8" fill="#231f20"/><line x1="758" y1="1618" x2="1095" y2="1596" stroke="#231f20" stroke-width="12.5"/><polygon points="720.3,1618.5 759.3,1594.8 762,1642" fill="#231f20"/><polygon points="1132,1593.5 1090.4,1572.6 1093.2,1621.3" fill="#231f20"/><line x1="805" y1="2236" x2="1588" y2="2201" stroke="#231f20" stroke-width="12.5"/><polygon points="763.8,2236 804.3,2213 807,2259.4" fill="#231f20"/><polygon points="1624.6,2201.4 1587,2178 1590,2224.6" fill="#231f20"/><line x1="963" y1="3201" x2="1641" y2="3124" stroke="#231f20" stroke-width="12.5"/><polygon points="923.8,3205.8 960.9,3178 965.5,3224" fill="#231f20"/><polygon points="1683.5,3117.4 1639,3099 1644.3,3148.7" fill="#231f20"/><line x1="572" y1="3238" x2="909" y2="3420" stroke="#231f20" stroke-width="12.5"/><polygon points="538.8,3215 587.5,3215 562,3256.8" fill="#231f20"/><polygon points="942.3,3447 893.6,3447 919,3405" fill="#231f20"/><line x1="390" y1="3244" x2="823" y2="3480" stroke="#231f20" stroke-width="12.5"/><polygon points="355.6,3219.7 406.7,3219.7 381,3263.8" fill="#231f20"/><polygon points="858.8,3507 810,3507 833,3465.5" fill="#231f20"/><line x1="1040" y1="3490" x2="1845" y2="3364" stroke="#231f20" stroke-width="12.5"/><polygon points="1000.3,3493 1037.4,3467.8 1044,3512" fill="#231f20"/><polygon points="1881.7,3365 1842.6,3334 1847.8,3394" fill="#231f20"/><g transform="translate(887.5,953.7) rotate(-0.7)"><text x="0" y="28.3" font-size="79" text-anchor="middle" textLength="223" lengthAdjust="spacingAndGlyphs" font-weight="bold" fill="#231f20" stroke="#231f20" stroke-width="2.1" stroke-linejoin="round">39 cm</text></g><g transform="translate(303.6,2059.5) rotate(-90)"><text x="0" y="28.3" font-size="79" text-anchor="middle" textLength="228.6" lengthAdjust="spacingAndGlyphs" font-weight="bold" fill="#231f20" stroke="#231f20" stroke-width="2.1" stroke-linejoin="round">90 cm</text></g><g transform="translate(1417,1608.7) rotate(-94.2)"><text x="0" y="28.3" font-size="79" text-anchor="middle" textLength="229" lengthAdjust="spacingAndGlyphs" font-weight="bold" fill="#231f20" stroke="#231f20" stroke-width="2.1" stroke-linejoin="round">49 cm</text></g><g transform="translate(921.3,1560) rotate(-2.4)"><text x="0" y="28.3" font-size="79" text-anchor="middle" textLength="309" lengthAdjust="spacingAndGlyphs" font-weight="bold" fill="#231f20" stroke="#231f20" stroke-width="2.1" stroke-linejoin="round">Ø 20 cm</text></g><g transform="translate(1146,2181) rotate(-2.3)"><text x="0" y="28.3" font-size="79" text-anchor="middle" textLength="311" lengthAdjust="spacingAndGlyphs" font-weight="bold" fill="#231f20" stroke="#231f20" stroke-width="2.1" stroke-linejoin="round">Ø 38 cm</text></g><g transform="translate(1352,3213) rotate(-5.6)"><text x="0" y="28.3" font-size="79" text-anchor="middle" textLength="226" lengthAdjust="spacingAndGlyphs" font-weight="bold" fill="#231f20" stroke="#231f20" stroke-width="2.1" stroke-linejoin="round">35 cm</text></g><g transform="translate(1471,3473) rotate(-8.6)"><text x="0" y="28.3" font-size="79" text-anchor="middle" textLength="226" lengthAdjust="spacingAndGlyphs" font-weight="bold" fill="#231f20" stroke="#231f20" stroke-width="2.1" stroke-linejoin="round">40 cm</text></g><g transform="translate(680,3344) rotate(31)"><text x="0" y="28.3" font-size="79" text-anchor="middle" textLength="226" lengthAdjust="spacingAndGlyphs" font-weight="bold" fill="#231f20" stroke="#231f20" stroke-width="2.1" stroke-linejoin="round">39 cm</text></g><g transform="translate(550,3378) rotate(31)"><text x="0" y="28.3" font-size="79" text-anchor="middle" textLength="227" lengthAdjust="spacingAndGlyphs" font-weight="bold" fill="#231f20" stroke="#231f20" stroke-width="2.1" stroke-linejoin="round">45 cm</text></g><g transform="translate(1447,866) rotate(0)"><text x="0" y="53.7" font-size="150" text-anchor="middle" textLength="174" lengthAdjust="spacingAndGlyphs" font-weight="bold" fill="#231f20" stroke="#231f20" stroke-width="4" stroke-linejoin="round">x2</text></g><g transform="translate(1853.4,-193.6) scale(0.46)">
<path d="M1380,2190 C1380.8,2195 1380.3,2197 1385,2220 C1389.7,2243 1401.3,2298.8 1408,2328 C1414.7,2357.2 1414.7,2364.5 1425,2395 C1435.3,2425.5 1441.5,2435.2 1470,2511 C1498.5,2586.8 1544.8,2714.8 1596,2850 C1647.2,2985.2 1746.8,3243.3 1777,3322" fill="none" stroke="#737373" stroke-width="34.8" stroke-linecap="butt" stroke-linejoin="round"/>

<path d="M1380,2190 C1380.8,2195 1380.3,2197 1385,2220 C1389.7,2243 1401.3,2298.8 1408,2328 C1414.7,2357.2 1414.7,2364.5 1425,2395 C1435.3,2425.5 1441.5,2435.2 1470,2511 C1498.5,2586.8 1544.8,2714.8 1596,2850 C1647.2,2985.2 1746.8,3243.3 1777,3322" fill="none" stroke="#fff" stroke-width="21.2" stroke-linecap="butt" stroke-linejoin="round"/><g transform="translate(6,-2)"><path d="M1400,2300 C1401.3,2304.7 1403.8,2312.2 1408,2328 C1412.2,2343.8 1414.7,2364.5 1425,2395 C1435.3,2425.5 1441.5,2435.2 1470,2511 C1498.5,2586.8 1546,2718.5 1596,2850 C1646,2981.5 1741,3225 1770,3300" fill="none" stroke="#737373" stroke-width="3.1" stroke-linecap="round" stroke-linejoin="round"/></g>
<path d="M1590,2295 C1593.7,2300.8 1605.8,2317.2 1612,2330 C1618.2,2342.8 1624.8,2356.3 1627,2372 C1629.2,2387.7 1633.3,2405.7 1625,2424 C1616.7,2442.3 1593.3,2458.3 1577,2482 C1560.7,2505.7 1545.8,2529.7 1527,2566 C1508.2,2602.3 1487,2652.7 1464,2700 C1441,2747.3 1420.3,2784.2 1389,2850 C1357.7,2915.8 1294.8,3054.2 1276,3095" fill="none" stroke="#737373" stroke-width="34.8" stroke-linecap="butt" stroke-linejoin="round"/>

<path d="M1590,2295 C1593.7,2300.8 1605.8,2317.2 1612,2330 C1618.2,2342.8 1624.8,2356.3 1627,2372 C1629.2,2387.7 1633.3,2405.7 1625,2424 C1616.7,2442.3 1593.3,2458.3 1577,2482 C1560.7,2505.7 1545.8,2529.7 1527,2566 C1508.2,2602.3 1487,2652.7 1464,2700 C1441,2747.3 1420.3,2784.2 1389,2850 C1357.7,2915.8 1294.8,3054.2 1276,3095" fill="none" stroke="#fff" stroke-width="21.2" stroke-linecap="butt" stroke-linejoin="round"/><g transform="translate(6,2.5)"><path d="M1600,2340 C1602,2345.3 1610.3,2358 1612,2372 C1613.7,2386 1617.5,2405.7 1610,2424 C1602.5,2442.3 1582.5,2458.3 1567,2482 C1551.5,2505.7 1535.8,2529.7 1517,2566 C1498.2,2602.3 1477,2652.7 1454,2700 C1431,2747.3 1408.8,2787.5 1379,2850 C1349.2,2912.5 1292.3,3037.5 1275,3075" fill="none" stroke="#737373" stroke-width="3.1" stroke-linecap="round" stroke-linejoin="round"/></g>
<path d="M1078,2343 C1080,2342.7 1053,2343.2 1090,2341 C1127,2338.8 1240,2333.3 1300,2330 C1360,2326.7 1401.7,2325.2 1450,2321 C1498.3,2316.8 1566.7,2307.7 1590,2305" fill="none" stroke="#737373" stroke-width="21.8" stroke-linecap="butt" stroke-linejoin="round"/>

<path d="M1078,2343 C1080,2342.7 1053,2343.2 1090,2341 C1127,2338.8 1240,2333.3 1300,2330 C1360,2326.7 1401.7,2325.2 1450,2321 C1498.3,2316.8 1566.7,2307.7 1590,2305" fill="none" stroke="#fff" stroke-width="8.2" stroke-linecap="butt" stroke-linejoin="round"/>
<ellipse cx="919.3" cy="1606.6" rx="225.6" ry="234.6" fill="#737373"/><circle cx="461.4" cy="1109" r="22.2" fill="#737373"/><circle cx="1270.9" cy="1070.7" r="22.2" fill="#737373"/>
<path d="M461.5,1112 L574,2095" fill="none" stroke="#737373" stroke-width="34.3" stroke-linecap="butt" stroke-linejoin="round"/>
<path d="M1271,1075 L1340,2025 L1362,2100 L1388,2230" fill="none" stroke="#737373" stroke-width="34.3" stroke-linecap="butt" stroke-linejoin="round"/>
<path d="M470,1195 C487.3,1194.3 547,1192.7 574,1191 C601,1189.3 616,1188 632,1185 C648,1182 657.3,1177.7 670,1173 C682.7,1168.3 690.7,1168.1 708,1157 C725.3,1145.9 746,1119 774,1106.5 C802,1094 842.7,1082 876,1082 C909.3,1082 946.3,1096.1 974,1106.7 C1001.7,1117.3 1021.6,1135.8 1042,1145.5 C1062.4,1155.2 1082.3,1161.3 1096.6,1165 C1110.9,1168.7 1113.6,1166.6 1128,1167.5 C1142.4,1168.4 1158.5,1171.9 1183,1170.5 C1207.5,1169.1 1259.7,1160.9 1275,1159" fill="none" stroke="#737373" stroke-width="34.3" stroke-linecap="butt" stroke-linejoin="round"/>
<path d="M565,2109.5 L1338,2043.5" fill="none" stroke="#737373" stroke-width="34.3" stroke-linecap="butt" stroke-linejoin="round"/>
<path d="M876,1103 C897.3,1101.4 911.1,1101.3 932,1107 C952.9,1112.7 982.2,1123.5 1001.5,1137.4 C1020.8,1151.4 1036.8,1169.1 1048,1190.7 C1059.2,1212.3 1066,1247.7 1068.7,1267 C1071.4,1286.3 1069.5,1293.1 1064,1306.7 C1058.5,1320.3 1048.3,1337.6 1036,1348.4 C1023.7,1359.2 1009.3,1365.5 990,1371.6 C970.7,1377.7 943.3,1382.8 920,1385 C896.7,1387.2 873.2,1386.5 850,1385 C826.8,1383.5 799,1382.1 781,1376 C763,1369.9 752.5,1361.9 741.7,1348.4 C730.9,1334.9 720.3,1313.6 716,1295 C711.7,1276.4 711,1258.2 716,1237 C721,1215.8 731.3,1187.6 746,1167.5 C760.7,1147.4 782.3,1127.2 804,1116.5 C825.7,1105.8 854.7,1104.6 876,1103 Z" fill="none" stroke="#737373" stroke-width="17.3" stroke-linecap="round" stroke-linejoin="round"/>
<path d="M827,1299.9 C826.4,1301.2 825.2,1305.7 823.3,1307.4 C821.4,1309.2 818.8,1310.7 815.8,1310.4 C812.8,1310.2 808.2,1308.9 805.2,1305.9 C802.2,1302.9 798,1298.1 797.7,1292.3 C797.5,1286.5 798.7,1276.5 803.7,1271.2 C808.7,1265.9 820,1261.2 827.8,1260.7 C835.6,1260.2 843.6,1263.2 850.4,1268.2 C857.2,1273.2 864.5,1282.8 868.5,1290.8 C872.5,1298.8 875,1307 874.5,1316.5 C874,1326 868.8,1339.6 865.5,1348.1 C862.2,1356.6 857.1,1362.4 855,1367.7 C852.9,1373 853.1,1378 852.7,1380" fill="none" stroke="#737373" stroke-width="17.3" stroke-linecap="round" stroke-linejoin="round"/>
<path d="M957.4,1292.3 C958.4,1294.1 960.7,1300.4 963.5,1302.9 C966.3,1305.4 970.5,1307.9 974,1307.4 C977.5,1306.9 982,1303.7 984.5,1299.9 C987,1296.1 989.5,1290.6 989,1284.8 C988.5,1279 987.4,1270.3 981.6,1265.2 C975.8,1260.1 963.2,1254.2 954.4,1253.9 C945.6,1253.7 935.6,1258.1 928.8,1263.7 C922,1269.3 916.3,1278.8 913.7,1287.8 C911.1,1296.8 911.5,1308.2 913,1318 C914.5,1327.8 918.4,1338.8 922.8,1346.6 C927.2,1354.4 935.9,1359.5 939.3,1364.7 C942.7,1369.9 942.4,1375.8 943,1378" fill="none" stroke="#737373" stroke-width="17.3" stroke-linecap="round" stroke-linejoin="round"/>
<path d="M562,1312.6 C561.9,1310.1 560.5,1301.3 561.4,1297.5 C562.3,1293.7 564.6,1291.2 567.4,1290 C570.2,1288.8 574.2,1288.2 578,1290 C581.8,1291.8 587,1295.8 590,1300.6 C593,1305.4 595.8,1312.1 596,1318.6 C596.2,1325.1 594.8,1333.9 591.5,1339.7 C588.2,1345.5 582.2,1350.5 576.4,1353.3 C570.6,1356.1 563.4,1356.8 556.9,1356.3 C550.4,1355.8 543.6,1354.6 537.3,1350.3 C531,1346 524.5,1339 519.2,1330.7 C513.9,1322.4 507.9,1310.1 505.6,1300.6 C503.3,1291 503.3,1283 505.6,1273.4 C507.9,1263.9 512.7,1251.3 519.2,1243.3 C525.7,1235.3 534.2,1229.6 544.8,1225.2 C555.3,1220.8 570.7,1217.2 582.5,1217 C594.3,1216.8 603.8,1219.3 615.6,1223.7 C627.4,1228.1 642,1235.5 653.3,1243.3 C664.6,1251.1 674.6,1260.4 683.4,1270.4 C692.2,1280.5 700.5,1292.3 706,1303.6 C711.5,1314.9 713.8,1325.5 716.6,1338.2 C719.4,1350.9 721.4,1365.3 723,1380 C724.6,1394.7 727.2,1408.8 726.5,1426.5 C725.8,1444.2 723.2,1465.4 719,1486 C714.8,1506.6 707.7,1532.2 701.2,1550 C694.7,1567.8 685.6,1581 680,1593 C674.4,1605 675.3,1604.7 667.4,1621.7 C659.5,1638.7 643,1673.1 632.6,1694.8 C622.2,1716.5 612.4,1734.5 605,1752 C597.6,1769.5 592.5,1783.7 588,1800 C583.5,1816.3 579.8,1836.7 578,1850 C576.2,1863.3 576.8,1869 577,1880 C577.2,1891 575.9,1901.2 579,1916 C582.1,1930.8 588.2,1953 595.5,1968.7 C602.8,1984.4 611.1,1997.5 622.6,2010.4 C634.1,2023.3 648.8,2035.7 664.4,2046 C680,2056.3 700.5,2066.8 716.5,2072 C732.5,2077.2 744.8,2077.8 760.4,2077 C776,2076.2 794.4,2074.6 810.4,2067 C826.4,2059.4 843.8,2044.2 856.3,2031.3 C868.8,2018.4 879.3,2005.2 885.6,1989.6 C891.9,1973.9 895,1956.5 894,1937.4 C893,1918.3 887.3,1891.8 879.3,1874.8 C871.3,1857.8 859.8,1844.8 845.9,1835.1 C832,1825.3 811.4,1817.3 795.8,1816.3 C780.1,1815.3 762.8,1820.9 752,1828.9 C741.2,1836.9 733.9,1851.5 731.1,1864.4 C728.3,1877.3 730.8,1895 735.3,1906.1 C739.8,1917.2 750.6,1926.6 758.3,1931.1 C765.9,1935.6 774.2,1935.3 781.2,1933.2 C788.2,1931.1 796.2,1924.5 800,1918.6 C803.8,1912.7 805.6,1903.3 804.2,1897.7 C802.8,1892.1 796.2,1886.9 791.7,1885.2 C787.2,1883.5 780,1885.5 777,1887.3 C774,1889 774.5,1894.3 774,1895.7" fill="none" stroke="#737373" stroke-width="17.3" stroke-linecap="round" stroke-linejoin="round"/>
<path d="M1216,1279.6 C1215.8,1277.4 1216.5,1269.7 1214.5,1266.6 C1212.5,1263.5 1207.9,1261 1204,1261 C1200.1,1261 1194.5,1263 1191,1266.6 C1187.5,1270.2 1183.6,1276.6 1182.8,1282.8 C1182,1289 1183,1297.8 1186,1304 C1189,1310.2 1194.5,1316.5 1200.7,1320 C1206.9,1323.5 1215.9,1325.5 1223.4,1325 C1231,1324.5 1239.2,1322.2 1246,1317 C1252.8,1311.8 1260.5,1303.2 1264,1294 C1267.5,1284.8 1268.3,1272.5 1267,1261.7 C1265.7,1250.9 1261.9,1238.5 1256,1229 C1250.1,1219.5 1241,1211.2 1231.5,1205 C1222,1198.8 1209.2,1194.3 1199,1192 C1188.8,1189.7 1179.7,1189.4 1170,1191 C1160.3,1192.6 1150.6,1196.1 1140.6,1201.7 C1130.6,1207.3 1118.4,1215.2 1109.8,1224.4 C1101.2,1233.6 1094.1,1245.3 1088.7,1256.9 C1083.3,1268.5 1080,1281.2 1077.3,1294.2 C1074.6,1307.2 1072.9,1319.9 1072.5,1334.8 C1072.1,1349.7 1072.4,1367.1 1075,1383.5 C1077.6,1399.9 1080.5,1415.2 1088,1433 C1095.5,1450.8 1108.1,1471.2 1120,1490 C1131.9,1508.8 1144.3,1521.4 1159.6,1546 C1174.9,1570.6 1196.5,1612 1211.6,1637.7 C1226.7,1663.4 1240.5,1683.7 1250.4,1700 C1260.4,1716.3 1264,1722.3 1271.3,1735.5 C1278.6,1748.7 1288.4,1764.3 1294.3,1779.3 C1300.2,1794.2 1304.7,1807.8 1306.8,1825.2 C1308.9,1842.6 1309.2,1864.6 1306.8,1883.7 C1304.4,1902.8 1300.5,1921.9 1292.2,1940 C1283.9,1958.1 1270.6,1976.7 1256.7,1992.2 C1242.8,2007.7 1225.1,2024 1208.7,2033 C1192.3,2042 1176.7,2046 1158.6,2046 C1140.5,2046 1116.9,2041.3 1100.2,2033 C1083.5,2024.7 1069.5,2010.2 1058.4,1996.4 C1047.3,1982.6 1039.3,1966.8 1033.4,1950.4 C1027.5,1934.1 1024,1915 1023,1898.3 C1021.9,1881.6 1022.9,1864.6 1027.1,1850.3 C1031.3,1836 1039.3,1822.1 1048,1812.7 C1056.7,1803.3 1067.8,1797.7 1079.3,1793.9 C1090.8,1790.1 1105.4,1788.7 1116.9,1789.7 C1128.4,1790.8 1139.9,1793.6 1148.2,1800.2 C1156.5,1806.8 1163.5,1819 1167,1829.4 C1170.5,1839.8 1171.1,1852.7 1169,1862.8 C1166.9,1872.9 1160.3,1883.3 1154.4,1889.9 C1148.5,1896.5 1140.5,1901 1133.6,1902.4 C1126.6,1903.8 1117.9,1901.4 1112.7,1898.3 C1107.5,1895.2 1103.7,1888.9 1102.3,1883.7 C1100.9,1878.5 1102.3,1871.3 1104.4,1867 C1106.5,1862.7 1111.7,1859 1114.8,1857.6 C1117.9,1856.2 1121.1,1857.4 1123,1858.6 C1124.9,1859.8 1125.8,1863.9 1126.3,1864.9" fill="none" stroke="#737373" stroke-width="17.3" stroke-linecap="round" stroke-linejoin="round"/>
<ellipse cx="919.3" cy="1606.6" rx="218.79999999999998" ry="227.79999999999998" fill="#fff"/><circle cx="461.4" cy="1109" r="15.4" fill="#fff"/><circle cx="1270.9" cy="1070.7" r="15.4" fill="#fff"/>
<path d="M461.5,1112 L574,2095" fill="none" stroke="#fff" stroke-width="20.7" stroke-linecap="butt" stroke-linejoin="round"/>
<path d="M1271,1075 L1340,2025 L1362,2100 L1388,2230" fill="none" stroke="#fff" stroke-width="20.7" stroke-linecap="butt" stroke-linejoin="round"/>
<path d="M470,1195 C487.3,1194.3 547,1192.7 574,1191 C601,1189.3 616,1188 632,1185 C648,1182 657.3,1177.7 670,1173 C682.7,1168.3 690.7,1168.1 708,1157 C725.3,1145.9 746,1119 774,1106.5 C802,1094 842.7,1082 876,1082 C909.3,1082 946.3,1096.1 974,1106.7 C1001.7,1117.3 1021.6,1135.8 1042,1145.5 C1062.4,1155.2 1082.3,1161.3 1096.6,1165 C1110.9,1168.7 1113.6,1166.6 1128,1167.5 C1142.4,1168.4 1158.5,1171.9 1183,1170.5 C1207.5,1169.1 1259.7,1160.9 1275,1159" fill="none" stroke="#fff" stroke-width="20.7" stroke-linecap="butt" stroke-linejoin="round"/>
<path d="M565,2109.5 L1338,2043.5" fill="none" stroke="#fff" stroke-width="20.7" stroke-linecap="butt" stroke-linejoin="round"/>
<path d="M876,1103 C897.3,1101.4 911.1,1101.3 932,1107 C952.9,1112.7 982.2,1123.5 1001.5,1137.4 C1020.8,1151.4 1036.8,1169.1 1048,1190.7 C1059.2,1212.3 1066,1247.7 1068.7,1267 C1071.4,1286.3 1069.5,1293.1 1064,1306.7 C1058.5,1320.3 1048.3,1337.6 1036,1348.4 C1023.7,1359.2 1009.3,1365.5 990,1371.6 C970.7,1377.7 943.3,1382.8 920,1385 C896.7,1387.2 873.2,1386.5 850,1385 C826.8,1383.5 799,1382.1 781,1376 C763,1369.9 752.5,1361.9 741.7,1348.4 C730.9,1334.9 720.3,1313.6 716,1295 C711.7,1276.4 711,1258.2 716,1237 C721,1215.8 731.3,1187.6 746,1167.5 C760.7,1147.4 782.3,1127.2 804,1116.5 C825.7,1105.8 854.7,1104.6 876,1103 Z" fill="none" stroke="#fff" stroke-width="3.7" stroke-linecap="round" stroke-linejoin="round"/>
<path d="M827,1299.9 C826.4,1301.2 825.2,1305.7 823.3,1307.4 C821.4,1309.2 818.8,1310.7 815.8,1310.4 C812.8,1310.2 808.2,1308.9 805.2,1305.9 C802.2,1302.9 798,1298.1 797.7,1292.3 C797.5,1286.5 798.7,1276.5 803.7,1271.2 C808.7,1265.9 820,1261.2 827.8,1260.7 C835.6,1260.2 843.6,1263.2 850.4,1268.2 C857.2,1273.2 864.5,1282.8 868.5,1290.8 C872.5,1298.8 875,1307 874.5,1316.5 C874,1326 868.8,1339.6 865.5,1348.1 C862.2,1356.6 857.1,1362.4 855,1367.7 C852.9,1373 853.1,1378 852.7,1380" fill="none" stroke="#fff" stroke-width="3.7" stroke-linecap="round" stroke-linejoin="round"/>
<path d="M957.4,1292.3 C958.4,1294.1 960.7,1300.4 963.5,1302.9 C966.3,1305.4 970.5,1307.9 974,1307.4 C977.5,1306.9 982,1303.7 984.5,1299.9 C987,1296.1 989.5,1290.6 989,1284.8 C988.5,1279 987.4,1270.3 981.6,1265.2 C975.8,1260.1 963.2,1254.2 954.4,1253.9 C945.6,1253.7 935.6,1258.1 928.8,1263.7 C922,1269.3 916.3,1278.8 913.7,1287.8 C911.1,1296.8 911.5,1308.2 913,1318 C914.5,1327.8 918.4,1338.8 922.8,1346.6 C927.2,1354.4 935.9,1359.5 939.3,1364.7 C942.7,1369.9 942.4,1375.8 943,1378" fill="none" stroke="#fff" stroke-width="3.7" stroke-linecap="round" stroke-linejoin="round"/>
<path d="M562,1312.6 C561.9,1310.1 560.5,1301.3 561.4,1297.5 C562.3,1293.7 564.6,1291.2 567.4,1290 C570.2,1288.8 574.2,1288.2 578,1290 C581.8,1291.8 587,1295.8 590,1300.6 C593,1305.4 595.8,1312.1 596,1318.6 C596.2,1325.1 594.8,1333.9 591.5,1339.7 C588.2,1345.5 582.2,1350.5 576.4,1353.3 C570.6,1356.1 563.4,1356.8 556.9,1356.3 C550.4,1355.8 543.6,1354.6 537.3,1350.3 C531,1346 524.5,1339 519.2,1330.7 C513.9,1322.4 507.9,1310.1 505.6,1300.6 C503.3,1291 503.3,1283 505.6,1273.4 C507.9,1263.9 512.7,1251.3 519.2,1243.3 C525.7,1235.3 534.2,1229.6 544.8,1225.2 C555.3,1220.8 570.7,1217.2 582.5,1217 C594.3,1216.8 603.8,1219.3 615.6,1223.7 C627.4,1228.1 642,1235.5 653.3,1243.3 C664.6,1251.1 674.6,1260.4 683.4,1270.4 C692.2,1280.5 700.5,1292.3 706,1303.6 C711.5,1314.9 713.8,1325.5 716.6,1338.2 C719.4,1350.9 721.4,1365.3 723,1380 C724.6,1394.7 727.2,1408.8 726.5,1426.5 C725.8,1444.2 723.2,1465.4 719,1486 C714.8,1506.6 707.7,1532.2 701.2,1550 C694.7,1567.8 685.6,1581 680,1593 C674.4,1605 675.3,1604.7 667.4,1621.7 C659.5,1638.7 643,1673.1 632.6,1694.8 C622.2,1716.5 612.4,1734.5 605,1752 C597.6,1769.5 592.5,1783.7 588,1800 C583.5,1816.3 579.8,1836.7 578,1850 C576.2,1863.3 576.8,1869 577,1880 C577.2,1891 575.9,1901.2 579,1916 C582.1,1930.8 588.2,1953 595.5,1968.7 C602.8,1984.4 611.1,1997.5 622.6,2010.4 C634.1,2023.3 648.8,2035.7 664.4,2046 C680,2056.3 700.5,2066.8 716.5,2072 C732.5,2077.2 744.8,2077.8 760.4,2077 C776,2076.2 794.4,2074.6 810.4,2067 C826.4,2059.4 843.8,2044.2 856.3,2031.3 C868.8,2018.4 879.3,2005.2 885.6,1989.6 C891.9,1973.9 895,1956.5 894,1937.4 C893,1918.3 887.3,1891.8 879.3,1874.8 C871.3,1857.8 859.8,1844.8 845.9,1835.1 C832,1825.3 811.4,1817.3 795.8,1816.3 C780.1,1815.3 762.8,1820.9 752,1828.9 C741.2,1836.9 733.9,1851.5 731.1,1864.4 C728.3,1877.3 730.8,1895 735.3,1906.1 C739.8,1917.2 750.6,1926.6 758.3,1931.1 C765.9,1935.6 774.2,1935.3 781.2,1933.2 C788.2,1931.1 796.2,1924.5 800,1918.6 C803.8,1912.7 805.6,1903.3 804.2,1897.7 C802.8,1892.1 796.2,1886.9 791.7,1885.2 C787.2,1883.5 780,1885.5 777,1887.3 C774,1889 774.5,1894.3 774,1895.7" fill="none" stroke="#fff" stroke-width="3.7" stroke-linecap="round" stroke-linejoin="round"/>
<path d="M1216,1279.6 C1215.8,1277.4 1216.5,1269.7 1214.5,1266.6 C1212.5,1263.5 1207.9,1261 1204,1261 C1200.1,1261 1194.5,1263 1191,1266.6 C1187.5,1270.2 1183.6,1276.6 1182.8,1282.8 C1182,1289 1183,1297.8 1186,1304 C1189,1310.2 1194.5,1316.5 1200.7,1320 C1206.9,1323.5 1215.9,1325.5 1223.4,1325 C1231,1324.5 1239.2,1322.2 1246,1317 C1252.8,1311.8 1260.5,1303.2 1264,1294 C1267.5,1284.8 1268.3,1272.5 1267,1261.7 C1265.7,1250.9 1261.9,1238.5 1256,1229 C1250.1,1219.5 1241,1211.2 1231.5,1205 C1222,1198.8 1209.2,1194.3 1199,1192 C1188.8,1189.7 1179.7,1189.4 1170,1191 C1160.3,1192.6 1150.6,1196.1 1140.6,1201.7 C1130.6,1207.3 1118.4,1215.2 1109.8,1224.4 C1101.2,1233.6 1094.1,1245.3 1088.7,1256.9 C1083.3,1268.5 1080,1281.2 1077.3,1294.2 C1074.6,1307.2 1072.9,1319.9 1072.5,1334.8 C1072.1,1349.7 1072.4,1367.1 1075,1383.5 C1077.6,1399.9 1080.5,1415.2 1088,1433 C1095.5,1450.8 1108.1,1471.2 1120,1490 C1131.9,1508.8 1144.3,1521.4 1159.6,1546 C1174.9,1570.6 1196.5,1612 1211.6,1637.7 C1226.7,1663.4 1240.5,1683.7 1250.4,1700 C1260.4,1716.3 1264,1722.3 1271.3,1735.5 C1278.6,1748.7 1288.4,1764.3 1294.3,1779.3 C1300.2,1794.2 1304.7,1807.8 1306.8,1825.2 C1308.9,1842.6 1309.2,1864.6 1306.8,1883.7 C1304.4,1902.8 1300.5,1921.9 1292.2,1940 C1283.9,1958.1 1270.6,1976.7 1256.7,1992.2 C1242.8,2007.7 1225.1,2024 1208.7,2033 C1192.3,2042 1176.7,2046 1158.6,2046 C1140.5,2046 1116.9,2041.3 1100.2,2033 C1083.5,2024.7 1069.5,2010.2 1058.4,1996.4 C1047.3,1982.6 1039.3,1966.8 1033.4,1950.4 C1027.5,1934.1 1024,1915 1023,1898.3 C1021.9,1881.6 1022.9,1864.6 1027.1,1850.3 C1031.3,1836 1039.3,1822.1 1048,1812.7 C1056.7,1803.3 1067.8,1797.7 1079.3,1793.9 C1090.8,1790.1 1105.4,1788.7 1116.9,1789.7 C1128.4,1790.8 1139.9,1793.6 1148.2,1800.2 C1156.5,1806.8 1163.5,1819 1167,1829.4 C1170.5,1839.8 1171.1,1852.7 1169,1862.8 C1166.9,1872.9 1160.3,1883.3 1154.4,1889.9 C1148.5,1896.5 1140.5,1901 1133.6,1902.4 C1126.6,1903.8 1117.9,1901.4 1112.7,1898.3 C1107.5,1895.2 1103.7,1888.9 1102.3,1883.7 C1100.9,1878.5 1102.3,1871.3 1104.4,1867 C1106.5,1862.7 1111.7,1859 1114.8,1857.6 C1117.9,1856.2 1121.1,1857.4 1123,1858.6 C1124.9,1859.8 1125.8,1863.9 1126.3,1864.9" fill="none" stroke="#fff" stroke-width="3.7" stroke-linecap="round" stroke-linejoin="round"/><ellipse cx="924.9" cy="1603.9" rx="209" ry="225" fill="none" stroke="#737373" stroke-width="6.8"/>
<path d="M600,2206 L722.6,2229 Q733,2228 740,2222 L740,2262 Q728,2270 713,2270 L600,2250 Z" fill="#fff"/><path d="M608,2208 L722.6,2229 Q733,2228 740,2222" fill="none" stroke="#737373" stroke-width="6.8" stroke-linecap="round" stroke-linejoin="round"/><path d="M617,2251.7 L713,2270 Q725,2270 734,2264" fill="none" stroke="#737373" stroke-width="6.8" stroke-linecap="round" stroke-linejoin="round"/><path d="M595,2134 Q615,2131 615.6,2148 L615.6,2206.5" fill="none" stroke="#737373" stroke-width="6.8" stroke-linecap="round" stroke-linejoin="round"/>
<path d="M1347,2089 L1347,2175" fill="none" stroke="#737373" stroke-width="30.8" stroke-linecap="round" stroke-linejoin="round"/>

<path d="M1347,2089 L1347,2175" fill="none" stroke="#fff" stroke-width="17.2" stroke-linecap="round" stroke-linejoin="round"/><path d="M1359,2145 L1405,2157" fill="none" stroke="#737373" stroke-width="6.8" stroke-linecap="round" stroke-linejoin="round"/><path d="M1124,2353 L1160,2369 Q1167,2371 1168,2364 L1170,2347" fill="none" stroke="#737373" stroke-width="6.8" stroke-linecap="round" stroke-linejoin="round"/>
<path d="M732,2224 C731.8,2227.5 730.2,2237.3 731,2245 C731.8,2252.7 733.5,2262.5 737,2270 C740.5,2277.5 744.7,2284.5 752,2290 C759.3,2295.5 769.7,2299.5 781,2303 C792.3,2306.5 791.8,2307.8 820,2311 C848.2,2314.2 903.3,2319.2 950,2322 C996.7,2324.8 1057.7,2326.8 1100,2328 C1142.3,2329.2 1154.8,2329.5 1204,2329 C1253.2,2328.5 1348.7,2327.5 1395,2325 C1441.3,2322.5 1453,2318.3 1482,2314 C1511,2309.7 1544.8,2304.3 1569,2299 C1593.2,2293.7 1612.5,2287.2 1627,2282 C1641.5,2276.8 1650,2274.2 1656,2268 C1662,2261.8 1661.5,2253.2 1663,2245 C1664.5,2236.8 1664.7,2223.3 1665,2219 Z" fill="#fff" stroke="#737373" stroke-width="6.8"/><g transform="rotate(-1.07 1198.5 2225)"><ellipse cx="1198.5" cy="2225" rx="467" ry="63" fill="#fff" stroke="#737373" stroke-width="6.8"/><ellipse cx="1198.5" cy="2223" rx="445" ry="53" fill="none" stroke="#737373" stroke-width="6.8"/></g>

<path d="M622,3041 L1325,2963" fill="none" stroke="#737373" stroke-width="22.8" stroke-linecap="butt" stroke-linejoin="round"/>
<path d="M925,3221 L1690,3127" fill="none" stroke="#737373" stroke-width="22.8" stroke-linecap="butt" stroke-linejoin="round"/>

<path d="M622,3041 L1325,2963" fill="none" stroke="#fff" stroke-width="9.2" stroke-linecap="butt" stroke-linejoin="round"/>
<path d="M925,3221 L1690,3127" fill="none" stroke="#fff" stroke-width="9.2" stroke-linecap="butt" stroke-linejoin="round"/>

<path d="M552,3192 C563.3,3163.3 596.5,3077 620,3020 C643.5,2963 671,2900.2 693,2850 C715,2799.8 730.3,2766 752,2719 C773.7,2672 803,2604.2 823,2568 C843,2531.8 853.3,2522.2 872,2502 C890.7,2481.8 912.8,2463.2 935,2447 C957.2,2430.8 982.8,2418.5 1005,2405 C1027.2,2391.5 1055.5,2376.3 1068,2366 C1080.5,2355.7 1078,2346.8 1080,2343" fill="none" stroke="#737373" stroke-width="36.8" stroke-linecap="butt" stroke-linejoin="round"/>
<path d="M850,2530 C858.3,2520.8 881.7,2492 900,2475 C918.3,2458 940,2441.8 960,2428 C980,2414.2 1002.3,2403 1020,2392 C1037.7,2381 1058.3,2367 1066,2362" fill="none" stroke="#737373" stroke-width="46.8" stroke-linecap="butt" stroke-linejoin="round"/>

<path d="M552,3192 C563.3,3163.3 596.5,3077 620,3020 C643.5,2963 671,2900.2 693,2850 C715,2799.8 730.3,2766 752,2719 C773.7,2672 803,2604.2 823,2568 C843,2531.8 853.3,2522.2 872,2502 C890.7,2481.8 912.8,2463.2 935,2447 C957.2,2430.8 982.8,2418.5 1005,2405 C1027.2,2391.5 1055.5,2376.3 1068,2366 C1080.5,2355.7 1078,2346.8 1080,2343" fill="none" stroke="#fff" stroke-width="23.2" stroke-linecap="butt" stroke-linejoin="round"/>
<path d="M850,2530 C858.3,2520.8 881.7,2492 900,2475 C918.3,2458 940,2441.8 960,2428 C980,2414.2 1002.3,2403 1020,2392 C1037.7,2381 1058.3,2367 1066,2362" fill="none" stroke="#fff" stroke-width="33.2" stroke-linecap="butt" stroke-linejoin="round"/><g transform="translate(5,4)"><path d="M560,3170 C570,3145 597.8,3073.3 620,3020 C642.2,2966.7 671,2900.2 693,2850 C715,2799.8 730.3,2766 752,2719 C773.7,2672 803,2604.2 823,2568 C843,2531.8 853.3,2522.2 872,2502 C890.7,2481.8 912.8,2463.2 935,2447 C957.2,2430.8 984.2,2417.5 1005,2405 C1025.8,2392.5 1050.8,2377.5 1060,2372" fill="none" stroke="#737373" stroke-width="3.1" stroke-linecap="round" stroke-linejoin="round"/></g>
<path d="M575.6,2102 C583.7,2143.3 613.1,2292 624.4,2350 C635.7,2408 634.5,2416 643.4,2450 C652.3,2484 661.6,2508.2 677.7,2554 C693.8,2599.8 723,2675.7 740,2725 C757,2774.3 739.7,2732.8 779.7,2850 C819.7,2967.2 946.6,3331.7 980,3428" fill="none" stroke="#737373" stroke-width="36.8" stroke-linecap="round" stroke-linejoin="round"/>

<path d="M575.6,2102 C583.7,2143.3 613.1,2292 624.4,2350 C635.7,2408 634.5,2416 643.4,2450 C652.3,2484 661.6,2508.2 677.7,2554 C693.8,2599.8 723,2675.7 740,2725 C757,2774.3 739.7,2732.8 779.7,2850 C819.7,2967.2 946.6,3331.7 980,3428" fill="none" stroke="#fff" stroke-width="23.2" stroke-linecap="round" stroke-linejoin="round"/><g transform="translate(5.5,-1.5)"><path d="M578,2110 C585.7,2150 613.5,2293.3 624.4,2350 C635.3,2406.7 634.5,2416 643.4,2450 C652.3,2484 661.6,2508.2 677.7,2554 C693.8,2599.8 723,2675.7 740,2725 C757,2774.3 741,2736.7 779.7,2850 C818.4,2963.3 940,3312.5 972,3405" fill="none" stroke="#737373" stroke-width="3.1" stroke-linecap="round" stroke-linejoin="round"/></g>
<path d="M515.4,3186 A35,10 0 0,1 585.4,3186 L585.4,3203 A35,10 0 0,1 515.4,3203 Z" fill="#fff" stroke="#737373" stroke-width="6.8"/><ellipse cx="550.4" cy="3186" rx="35" ry="10" fill="#fff" stroke="#737373" stroke-width="6.8"/><path d="M942.0,3433 A39.5,11 0 0,1 1021.0,3433 L1021.0,3452 A39.5,11 0 0,1 942.0,3452 Z" fill="#fff" stroke="#737373" stroke-width="6.8"/><ellipse cx="981.5" cy="3433" rx="39.5" ry="11" fill="#fff" stroke="#737373" stroke-width="6.8"/><path d="M1240.0,3093 A36.5,9.5 0 0,1 1313.0,3093 L1313.0,3108 A36.5,9.5 0 0,1 1240.0,3108 Z" fill="#fff" stroke="#737373" stroke-width="6.8"/><ellipse cx="1276.5" cy="3093" rx="36.5" ry="9.5" fill="#fff" stroke="#737373" stroke-width="6.8"/><path d="M1738,3319 A39,11 0 0,1 1816,3319 L1816,3338 A39,11 0 0,1 1738,3338 Z" fill="#fff" stroke="#737373" stroke-width="6.8"/><ellipse cx="1777" cy="3319" rx="39" ry="11" fill="#fff" stroke="#737373" stroke-width="6.8"/></g><circle cx="2233.3" cy="1674" r="11.7" fill="#7b7b7b"/><circle cx="2689" cy="1675.7" r="11.7" fill="#7b7b7b"/>
<path d="M2233.5,1680 C2234.1,1716.7 2235.6,1833.3 2237,1900 C2238.4,1966.7 2241.8,2030 2242,2080 C2242.2,2130 2240.3,2130 2238,2200 C2235.7,2270 2232.7,2381.3 2228,2500 C2223.3,2618.7 2213,2843.3 2210,2912" fill="none" stroke="#7b7b7b" stroke-width="17.4" stroke-linecap="butt" stroke-linejoin="round"/>
<path d="M2686,1682 C2685.8,1721.7 2685.3,1842 2685,1920 C2684.7,1998 2683.5,2086.7 2684,2150 C2684.5,2213.3 2684,2225 2688,2300 C2692,2375 2701,2499.2 2708,2600 C2715,2700.8 2726.3,2854.2 2730,2905" fill="none" stroke="#7b7b7b" stroke-width="17.4" stroke-linecap="butt" stroke-linejoin="round"/>
<path d="M2238,1716 C2250.5,1716.2 2292.3,1719.3 2313,1717 C2333.7,1714.7 2347.5,1707.7 2362,1702 C2376.5,1696.3 2387,1689.3 2400,1683 C2413,1676.7 2426.7,1667.2 2440,1664 C2453.3,1660.8 2459.7,1657.8 2480,1664 C2500.3,1670.2 2541.7,1692.3 2562,1701 C2582.3,1709.7 2581,1712.7 2602,1716 C2623,1719.3 2673.7,1720.2 2688,1721" fill="none" stroke="#7b7b7b" stroke-width="16" stroke-linecap="butt" stroke-linejoin="round"/>
<path d="M2240,2169 L2688,2168" fill="none" stroke="#7b7b7b" stroke-width="15.4" stroke-linecap="butt" stroke-linejoin="round"/>
<path d="M2363,2174 C2363,2128.3 2363,1967.3 2363,1900 C2363,1832.7 2361.3,1798.2 2363,1770 C2364.7,1741.8 2366,1743.2 2373,1731 C2380,1718.8 2393.2,1705.3 2405,1697 C2416.8,1688.7 2431.5,1684 2444,1681 C2456.5,1678 2467.3,1677.5 2480,1679 C2492.7,1680.5 2509.2,1684.7 2520,1690 C2530.8,1695.3 2538.3,1703 2545,1711 C2551.7,1719 2557.3,1728.2 2560,1738 C2562.7,1747.8 2561,1743 2561,1770 C2561,1797 2560.3,1832.7 2560,1900 C2559.7,1967.3 2559.2,2128.3 2559,2174" fill="none" stroke="#7b7b7b" stroke-width="9.9" stroke-linecap="butt" stroke-linejoin="round"/>
<path d="M2281,1775 C2281.5,1773.5 2281.8,1767.5 2284,1766 C2286.2,1764.5 2291.2,1763.7 2294,1766 C2296.8,1768.3 2301,1775 2301,1780 C2301,1785 2298.3,1792.5 2294,1796 C2289.7,1799.5 2281.3,1801.7 2275,1801 C2268.7,1800.3 2260.5,1796.3 2256,1792 C2251.5,1787.7 2249,1781.2 2248,1775 C2247,1768.8 2246.7,1761.7 2250,1755 C2253.3,1748.3 2260.7,1738.8 2268,1735 C2275.3,1731.2 2285.1,1731.5 2294,1732 C2302.9,1732.5 2312.2,1733 2321.7,1738 C2331.2,1743 2346.1,1758 2351,1762" fill="none" stroke="#7b7b7b" stroke-width="8.9" stroke-linecap="round" stroke-linejoin="round"/>
<path d="M2643,1775 C2642,1773.8 2639.5,1768.8 2637,1768 C2634.5,1767.2 2630.2,1768 2628,1770 C2625.8,1772 2623.7,1776.2 2624,1780 C2624.3,1783.8 2626,1790 2630,1793 C2634,1796 2641.7,1799.2 2648,1798 C2654.3,1796.8 2664,1791.3 2668,1786 C2672,1780.7 2673,1773.3 2672,1766 C2671,1758.7 2667.3,1747.8 2662,1742 C2656.7,1736.2 2648.5,1732.3 2640,1731 C2631.5,1729.7 2619.8,1730.7 2611,1734 C2602.2,1737.3 2593.3,1745.8 2587,1751 C2580.7,1756.2 2575.3,1762.7 2573,1765" fill="none" stroke="#7b7b7b" stroke-width="8.9" stroke-linecap="round" stroke-linejoin="round"/>
<path d="M2214,2789 L2716,2780" fill="none" stroke="#7b7b7b" stroke-width="14.4" stroke-linecap="butt" stroke-linejoin="round"/>
<path d="M2330,2176 C2325,2180.8 2310.3,2194.5 2300,2205 C2289.7,2215.5 2276.3,2223.3 2268,2239 C2259.7,2254.7 2253.7,2278.8 2250,2299 C2246.3,2319.2 2247.7,2326.5 2246,2360 C2244.3,2393.5 2242.3,2443.3 2240,2500 C2237.7,2556.7 2234.5,2633.3 2232,2700 C2229.5,2766.7 2226.2,2866.7 2225,2900" fill="none" stroke="#7b7b7b" stroke-width="11.4" stroke-linecap="butt" stroke-linejoin="round"/>
<path d="M2598,2178 C2603,2182.8 2617.7,2196.7 2628,2207 C2638.3,2217.3 2652,2224.5 2660,2240 C2668,2255.5 2673,2273.3 2676,2300 C2679,2326.7 2676.8,2350 2678,2400 C2679.2,2450 2681,2536.7 2683,2600 C2685,2663.3 2687.7,2730.8 2690,2780 C2692.3,2829.2 2695.8,2875.8 2697,2895" fill="none" stroke="#7b7b7b" stroke-width="11.4" stroke-linecap="butt" stroke-linejoin="round"/>
<circle cx="2233.3" cy="1674" r="8.3" fill="#fff"/><circle cx="2689" cy="1675.7" r="8.3" fill="#fff"/>
<path d="M2233.5,1680 C2234.1,1716.7 2235.6,1833.3 2237,1900 C2238.4,1966.7 2241.8,2030 2242,2080 C2242.2,2130 2240.3,2130 2238,2200 C2235.7,2270 2232.7,2381.3 2228,2500 C2223.3,2618.7 2213,2843.3 2210,2912" fill="none" stroke="#fff" stroke-width="10.6" stroke-linecap="butt" stroke-linejoin="round"/>
<path d="M2686,1682 C2685.8,1721.7 2685.3,1842 2685,1920 C2684.7,1998 2683.5,2086.7 2684,2150 C2684.5,2213.3 2684,2225 2688,2300 C2692,2375 2701,2499.2 2708,2600 C2715,2700.8 2726.3,2854.2 2730,2905" fill="none" stroke="#fff" stroke-width="10.6" stroke-linecap="butt" stroke-linejoin="round"/>
<path d="M2238,1716 C2250.5,1716.2 2292.3,1719.3 2313,1717 C2333.7,1714.7 2347.5,1707.7 2362,1702 C2376.5,1696.3 2387,1689.3 2400,1683 C2413,1676.7 2426.7,1667.2 2440,1664 C2453.3,1660.8 2459.7,1657.8 2480,1664 C2500.3,1670.2 2541.7,1692.3 2562,1701 C2582.3,1709.7 2581,1712.7 2602,1716 C2623,1719.3 2673.7,1720.2 2688,1721" fill="none" stroke="#fff" stroke-width="9.2" stroke-linecap="butt" stroke-linejoin="round"/>
<path d="M2240,2169 L2688,2168" fill="none" stroke="#fff" stroke-width="8.6" stroke-linecap="butt" stroke-linejoin="round"/>
<path d="M2363,2174 C2363,2128.3 2363,1967.3 2363,1900 C2363,1832.7 2361.3,1798.2 2363,1770 C2364.7,1741.8 2366,1743.2 2373,1731 C2380,1718.8 2393.2,1705.3 2405,1697 C2416.8,1688.7 2431.5,1684 2444,1681 C2456.5,1678 2467.3,1677.5 2480,1679 C2492.7,1680.5 2509.2,1684.7 2520,1690 C2530.8,1695.3 2538.3,1703 2545,1711 C2551.7,1719 2557.3,1728.2 2560,1738 C2562.7,1747.8 2561,1743 2561,1770 C2561,1797 2560.3,1832.7 2560,1900 C2559.7,1967.3 2559.2,2128.3 2559,2174" fill="none" stroke="#fff" stroke-width="3.1" stroke-linecap="butt" stroke-linejoin="round"/>
<path d="M2281,1775 C2281.5,1773.5 2281.8,1767.5 2284,1766 C2286.2,1764.5 2291.2,1763.7 2294,1766 C2296.8,1768.3 2301,1775 2301,1780 C2301,1785 2298.3,1792.5 2294,1796 C2289.7,1799.5 2281.3,1801.7 2275,1801 C2268.7,1800.3 2260.5,1796.3 2256,1792 C2251.5,1787.7 2249,1781.2 2248,1775 C2247,1768.8 2246.7,1761.7 2250,1755 C2253.3,1748.3 2260.7,1738.8 2268,1735 C2275.3,1731.2 2285.1,1731.5 2294,1732 C2302.9,1732.5 2312.2,1733 2321.7,1738 C2331.2,1743 2346.1,1758 2351,1762" fill="none" stroke="#fff" stroke-width="2.1" stroke-linecap="round" stroke-linejoin="round"/>
<path d="M2643,1775 C2642,1773.8 2639.5,1768.8 2637,1768 C2634.5,1767.2 2630.2,1768 2628,1770 C2625.8,1772 2623.7,1776.2 2624,1780 C2624.3,1783.8 2626,1790 2630,1793 C2634,1796 2641.7,1799.2 2648,1798 C2654.3,1796.8 2664,1791.3 2668,1786 C2672,1780.7 2673,1773.3 2672,1766 C2671,1758.7 2667.3,1747.8 2662,1742 C2656.7,1736.2 2648.5,1732.3 2640,1731 C2631.5,1729.7 2619.8,1730.7 2611,1734 C2602.2,1737.3 2593.3,1745.8 2587,1751 C2580.7,1756.2 2575.3,1762.7 2573,1765" fill="none" stroke="#fff" stroke-width="2.1" stroke-linecap="round" stroke-linejoin="round"/>
<path d="M2214,2789 L2716,2780" fill="none" stroke="#fff" stroke-width="7.6" stroke-linecap="butt" stroke-linejoin="round"/>
<path d="M2330,2176 C2325,2180.8 2310.3,2194.5 2300,2205 C2289.7,2215.5 2276.3,2223.3 2268,2239 C2259.7,2254.7 2253.7,2278.8 2250,2299 C2246.3,2319.2 2247.7,2326.5 2246,2360 C2244.3,2393.5 2242.3,2443.3 2240,2500 C2237.7,2556.7 2234.5,2633.3 2232,2700 C2229.5,2766.7 2226.2,2866.7 2225,2900" fill="none" stroke="#fff" stroke-width="4.6" stroke-linecap="butt" stroke-linejoin="round"/>
<path d="M2598,2178 C2603,2182.8 2617.7,2196.7 2628,2207 C2638.3,2217.3 2652,2224.5 2660,2240 C2668,2255.5 2673,2273.3 2676,2300 C2679,2326.7 2676.8,2350 2678,2400 C2679.2,2450 2681,2536.7 2683,2600 C2685,2663.3 2687.7,2730.8 2690,2780 C2692.3,2829.2 2695.8,2875.8 2697,2895" fill="none" stroke="#fff" stroke-width="4.6" stroke-linecap="butt" stroke-linejoin="round"/><path d="M2381.8,1756.9 L2378.5,2163" fill="none" stroke="#7b7b7b" stroke-width="3.4" stroke-linecap="round" stroke-linejoin="round"/><path d="M2579.6,1773 L2578,2163" fill="none" stroke="#7b7b7b" stroke-width="3.4" stroke-linecap="round" stroke-linejoin="round"/><circle cx="2463.6" cy="1971" r="230" fill="none" stroke="#7b7b7b" stroke-width="3.4"/>
<path d="M2375,1808.4 L2471,2202 L2573,1801" fill="none" stroke="#383838" stroke-width="10.1" stroke-linecap="round" stroke-linejoin="round"/>

<path d="M2375,1808.4 L2471,2202 L2573,1801" fill="none" stroke="#fff" stroke-width="0.9" stroke-linecap="round" stroke-linejoin="round"/><path d="M2181.0,2915 A23.5,8 0 0,1 2228.0,2915 L2228.0,2927 A23.5,8 0 0,1 2181.0,2927 Z" fill="#fff" stroke="#7b7b7b" stroke-width="3.4"/><ellipse cx="2204.5" cy="2915" rx="23.5" ry="8" fill="#fff" stroke="#7b7b7b" stroke-width="3.4"/><path d="M2213,2902 A16,7 0 0,1 2245,2902 L2245,2912 A16,7 0 0,1 2213,2912 Z" fill="#fff" stroke="#7b7b7b" stroke-width="3.4"/><ellipse cx="2229" cy="2902" rx="16" ry="7" fill="#fff" stroke="#7b7b7b" stroke-width="3.4"/><path d="M2679,2890 A21,8 0 0,1 2721,2890 L2721,2902 A21,8 0 0,1 2679,2902 Z" fill="#fff" stroke="#7b7b7b" stroke-width="3.4"/><ellipse cx="2700" cy="2890" rx="21" ry="8" fill="#fff" stroke="#7b7b7b" stroke-width="3.4"/><path d="M2704,2906 A22,8 0 0,1 2748,2906 L2748,2918 A22,8 0 0,1 2704,2918 Z" fill="#fff" stroke="#7b7b7b" stroke-width="3.4"/><ellipse cx="2726" cy="2906" rx="22" ry="8" fill="#fff" stroke="#7b7b7b" stroke-width="3.4"/><line x1="2140.7" y1="1690" x2="2140.7" y2="2902" stroke="#231f20" stroke-width="12.5"/><polygon points="2140.7,1652 2115.8,1693.5 2166,1693.5" fill="#231f20"/><polygon points="2140.4,2939 2117,2899.7 2164,2899.7" fill="#231f20"/><line x1="2222" y1="2975" x2="2710" y2="2972" stroke="#231f20" stroke-width="12.5"/><polygon points="2181.3,2973.6 2225.7,2951.5 2225.7,2998.3" fill="#231f20"/><polygon points="2750.5,2971 2706,2949 2708.6,2995.8" fill="#231f20"/><line x1="2780" y1="2935" x2="2815" y2="2898" stroke="#231f20" stroke-width="12.5"/><polygon points="2832.3,2869 2787.7,2889.3 2826.2,2919.7" fill="#231f20"/><polygon points="2767.4,2958.3 2773.5,2909.6 2814,2940" fill="#231f20"/><g transform="translate(2093.6,2242.3) rotate(-90)"><text x="0" y="28.3" font-size="79" text-anchor="middle" textLength="274.5" lengthAdjust="spacingAndGlyphs" font-weight="bold" fill="#231f20" stroke="#231f20" stroke-width="2.1" stroke-linejoin="round">105 cm</text></g><g transform="translate(2438.6,3028) rotate(0)"><text x="0" y="28.3" font-size="79" text-anchor="middle" textLength="227" lengthAdjust="spacingAndGlyphs" font-weight="bold" fill="#231f20" stroke="#231f20" stroke-width="2.1" stroke-linejoin="round">39 cm</text></g><g transform="translate(2860.5,2933.5) rotate(-50)"><text x="0" y="28.3" font-size="79" text-anchor="middle" textLength="164" lengthAdjust="spacingAndGlyphs" font-weight="bold" fill="#231f20" stroke="#231f20" stroke-width="2.1" stroke-linejoin="round">8 cm</text></g><g transform="translate(2759.8,3652) rotate(0)"><text x="0" y="28.3" font-size="79" text-anchor="middle" textLength="309.7" lengthAdjust="spacingAndGlyphs" font-weight="bold" fill="#231f20" stroke="#231f20" stroke-width="2.1" stroke-linejoin="round">+/- 2 cm</text></g><path d="M2238,447 A102.6,106.7 0 0,1 2366,495" fill="none" stroke="#231f20" stroke-width="2.7" stroke-linecap="round" stroke-linejoin="round"/><path d="M2258,651.5 L2300,652" fill="none" stroke="#231f20" stroke-width="2.7" stroke-linecap="round" stroke-linejoin="round"/><g transform="rotate(-1.07 2404.7 829.7)"><path d="M2190.0,829.7 A214.7,28.8 0 0,1 2619.3999999999996,829.7" fill="none" stroke="#231f20" stroke-width="2.7" stroke-linecap="round" stroke-linejoin="round"/></g><path d="M2298.7,537.4 C2320,532 2350,529 2373.5,527.6 C2382,521 2390,505 2393.5,488 C2396,470 2390,452 2380.4,443.5 C2373,437 2371.7,430 2371.7,422.6 C2371.7,417 2400,416 2416,416 C2432,416 2460.4,417 2460.4,422.6 C2460.4,430 2458,437 2450,443.5 C2440,452 2437,470 2439.5,488 C2442,505 2450,521 2458.7,527.6 C2482,529 2510,532 2530,539 L2530,820.8 C2530,835 2480,843.4 2414.4,843.4 C2350,843.4 2298.7,835 2298.7,822.6 Z" fill="#fff" stroke="#231f20" stroke-width="3.2" stroke-linejoin="round"/><g transform="translate(2413.4,599.1) rotate(0)"><text x="0" y="22.7" font-size="63.5" text-anchor="middle" textLength="141.2" lengthAdjust="spacingAndGlyphs" font-weight="bold" fill="#231f20" stroke="#231f20" stroke-width="1.7" stroke-linejoin="round">MAX</text></g><g transform="translate(2415,690.4) rotate(0)"><text x="0" y="40.5" font-size="113" text-anchor="middle" textLength="195" lengthAdjust="spacingAndGlyphs" font-weight="bold" fill="#231f20" stroke="#231f20" stroke-width="3.1" stroke-linejoin="round">150</text></g><text x="2411.5" y="810" font-size="80" text-anchor="middle" textLength="86" lengthAdjust="spacingAndGlyphs" font-weight="bold" fill="#231f20" stroke="#231f20" stroke-width="1.8">kg</text>
</svg></body></html>
